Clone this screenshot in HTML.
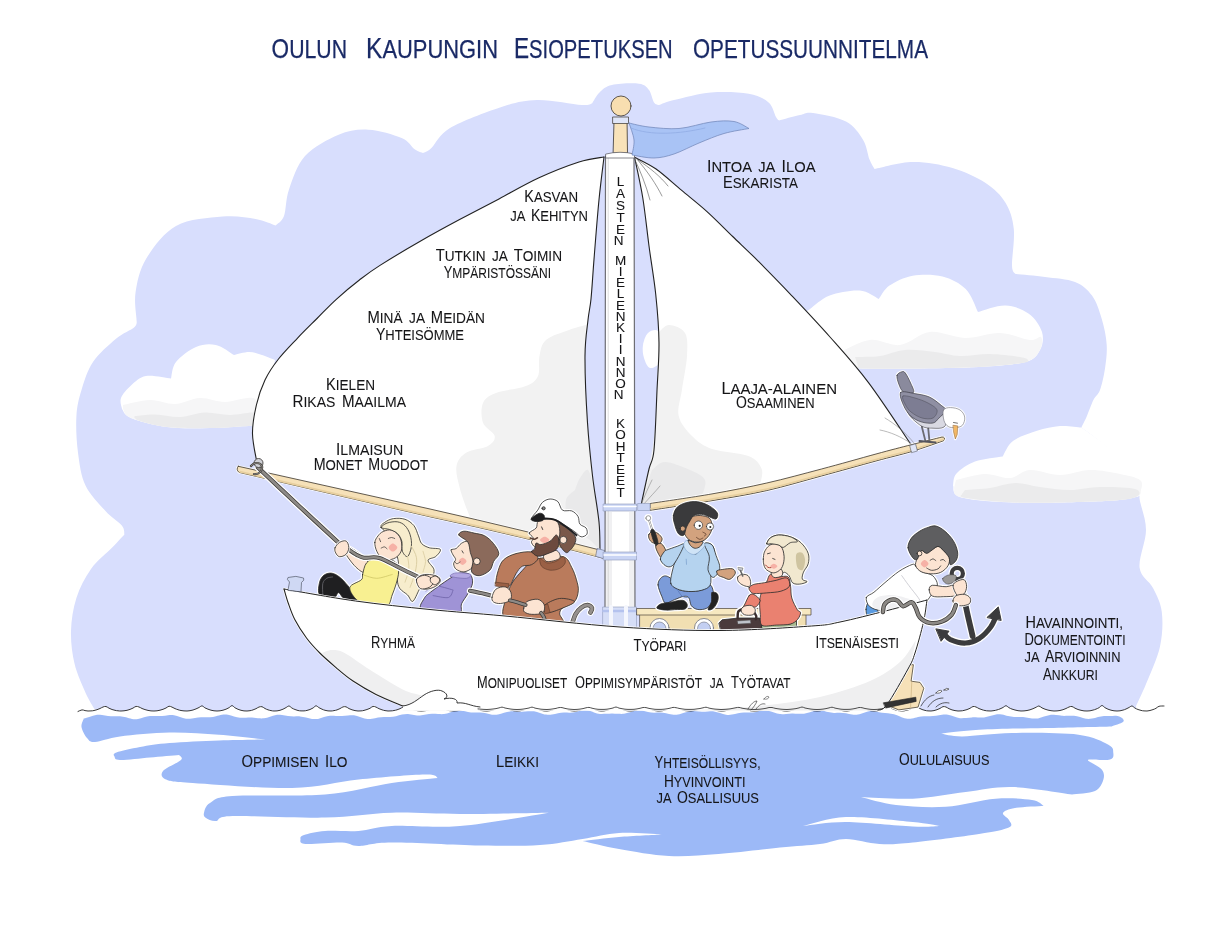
<!DOCTYPE html>
<html lang="fi"><head><meta charset="utf-8"><title>Oulun kaupungin esiopetuksen opetussuunnitelma</title>
<style>
html,body{margin:0;padding:0;background:#fff;}
body{width:1206px;height:935px;overflow:hidden;font-family:"Liberation Sans",sans-serif;}
svg{display:block;will-change:transform;}
svg text{font-family:"Liberation Sans",sans-serif;}
</style></head><body>
<svg width="1206" height="935" viewBox="0 0 1206 935" stroke-linejoin="round" stroke-linecap="round">
<path d="M94.5 709C93 706.3 88.8 700.3 85.5 692.7C82.2 685.1 76.9 673.9 74.5 663.6C72.1 653.3 70.7 641.9 71 631C71.3 620.1 73.1 608.3 76.4 598C79.7 587.7 85 577.5 91 569C97 560.5 107.1 552.8 112.7 547C118.3 541.2 122.5 536.6 124.4 534.5C124 533 125 529.4 121.8 525.5C118.6 521.6 111.5 517.7 105.5 511C99.5 504.3 90.1 495.2 85.5 485.5C80.9 475.8 79.5 464.2 78 452.7C76.5 441.2 75.8 426.8 76.4 416.4C77 405.9 78.7 399.1 81.5 390C84.3 380.9 87.2 370.6 93 362C98.8 353.4 109.1 344.5 116 338.7C122.9 332.9 131.2 330.3 134.6 327C138 323.7 136.2 320.3 136.5 319C136.3 314.5 134 302 135.6 292C137.2 282 139.3 270 146 259C152.7 248 163.2 233.1 176 226C188.8 218.9 209.2 217.8 222.5 216.6C235.8 215.4 246.8 217.5 255.6 219C264.4 220.5 272.2 224.4 275.5 225.5C276.9 223.9 281.8 222 284 216C286.2 210 285.5 199.5 289 189.5C292.5 179.5 296.7 165.1 305 156C313.3 146.9 328 139.1 338.6 134.7C349.2 130.3 357.9 129.1 368.4 129.7C378.9 130.2 393.8 134.7 401.6 138C409.4 141.3 411.4 147.1 415 149.6C418.6 152.1 421.7 152.4 423 153C424.4 152.2 426.9 152.2 431.4 148C435.9 143.8 438.6 134.8 450 128C461.4 121.2 485.5 112.1 500 107.4C514.5 102.7 523.3 100.4 537 100C550.7 99.6 572.8 104.4 582 105C591.2 105.6 590.3 103.8 592 103.6C593.2 101.7 596.2 95.5 599.5 92.4C602.8 89.3 605.4 86.5 612 85C618.6 83.5 632.8 82.9 639 83.7C645.2 84.5 646.5 86.9 649 90C651.5 93.1 652.3 99.9 654 102.4C655.7 104.9 658.2 104.6 659 105C661.5 104.2 665.3 102.1 674 100C682.7 97.9 698.5 93.5 711 92.4C723.5 91.4 739.1 92 748.7 93.7C758.3 95.4 764.1 98.5 768.6 102.4C773.1 106.3 774.3 114 776 117C777.7 120 778.5 119.9 779 120.5C782.5 119.6 794.3 116.2 800 115C805.7 113.8 805.3 111.9 813 113C820.7 114.1 837.7 117 846 121.5C854.3 126 859.1 133.3 863 139.7C866.9 146 867.6 154.7 869.5 159.6C871.4 164.5 873.7 167.4 874.5 169C880.9 167.8 899.7 162.2 912.7 162C925.7 161.8 940.4 164.5 952.5 168C964.6 171.5 976.8 177.2 985.6 183C994.4 188.8 1000.8 195 1005.5 202.7C1010.2 210.4 1012.7 218.5 1013.8 229C1014.9 239.5 1011.7 258.2 1012 265.7C1012.3 273.2 1014.9 272.6 1015.5 274C1020.4 274.5 1035.1 275.7 1045 277C1054.9 278.3 1067.2 278.9 1075 282C1082.8 285.1 1087.5 289.5 1092 295.6C1096.5 301.7 1099.2 310.6 1101.7 318.8C1104.2 327 1106.2 336.7 1106.7 345C1107.2 353.3 1106.1 361 1105 368.5C1103.9 376 1101.9 384.8 1100 390C1098.1 395.2 1095.7 395.5 1093.4 400C1091.2 404.5 1088.5 412.4 1086.5 417C1084.5 421.6 1082.2 425.7 1081.4 427.4C1086.2 431.2 1100.3 440.6 1110 450C1119.7 459.4 1134.7 475.8 1139.6 484C1144.5 492.2 1138.5 491.3 1139.6 499C1140.7 506.7 1146 518.5 1146 530C1146 541.5 1138.4 558 1139.6 567.7C1140.8 577.4 1149.3 580.6 1153 588C1156.7 595.4 1160.6 602.3 1161.8 612C1163 621.7 1162.6 634.4 1160 646.4C1157.4 658.4 1150 674.1 1146 684C1142 693.9 1137.7 702.3 1136 706C1136 706.4 1136.5 708.5 1136 708.6C1135.5 708.7 1134 707.1 1133 706.8C1132 706.6 1131 706.5 1130 706.8C1129 707.1 1128 708.1 1127 708.6C1126 709.1 1125 709.5 1124 709.8C1123 710.1 1122 710.4 1121 710.6C1120 710.8 1119 710.9 1118 711C1117 711 1116 711 1115 710.9C1114 710.8 1113 710.7 1112 710.4C1111 710.2 1110 709.9 1109 709.5C1108 709.2 1107 708.8 1106 708.3C1105 707.7 1104 706.6 1103 706.4C1102 706.2 1101 706.7 1100 707.1C1099 707.5 1098 708.2 1097 708.7C1096 709.1 1095 709.5 1094 709.8C1093 710.1 1092 710.4 1091 710.6C1090 710.8 1089 710.9 1088 711C1087 711 1086 711 1085 710.9C1084 710.9 1083 710.7 1082 710.6C1081 710.4 1080 710.1 1079 709.8C1078 709.5 1077 709.1 1076 708.7C1075 708.2 1074 707.5 1073 707.1C1072 706.7 1071 706.1 1070 706.3C1069 706.4 1068 707.5 1067 708.1C1066 708.6 1065 709 1064 709.3C1063 709.7 1062 710 1061 710.2C1060 710.5 1059 710.7 1058 710.8C1057 710.9 1056 711 1055 711C1054 711 1053 711 1052 710.9C1051 710.7 1050 710.6 1049 710.4C1048 710.1 1047 709.9 1046 709.5C1045 709.2 1044 708.8 1043 708.4C1042 707.9 1041 707 1040 706.8C1039 706.5 1038 706.4 1037 706.6C1036 706.9 1035 707.8 1034 708.3C1033 708.7 1032 709.1 1031 709.5C1030 709.8 1029 710.1 1028 710.3C1027 710.5 1026 710.7 1025 710.8C1024 710.9 1023 711 1022 711C1021 711 1020 710.9 1019 710.8C1018 710.7 1017 710.5 1016 710.3C1015 710.1 1014 709.8 1013 709.4C1012 709.1 1011 708.7 1010 708.2C1009 707.7 1008 706.8 1007 706.5C1006 706.3 1005 706.6 1004 706.9C1003 707.2 1002 708 1001 708.5C1000 708.9 999 709.3 998 709.6C997 710 996 710.2 995 710.4C994 710.7 993 710.8 992 710.9C991 711 990 711 989 711C988 711 987 710.9 986 710.7C985 710.5 984 710.3 983 710C982 709.8 981 709.4 980 709C979 708.6 978 708.1 977 707.6C976 707 975 705.7 974 705.7C973 705.7 972 707.2 971 707.8C970 708.4 969 708.8 968 709.2C967 709.6 966 709.9 965 710.2C964 710.5 963 710.7 962 710.8C961 710.9 960 711 959 711C958 711 957 710.9 956 710.8C955 710.7 954 710.4 953 710.2C952 709.9 951 709.5 950 709.1C949 708.7 948 708.2 947 707.6C946 707.1 945 705.7 944 705.7C943 705.8 942 707.3 941 707.9C940 708.5 939 708.9 938 709.3C937 709.7 936 710.1 935 710.3C934 710.6 933 710.8 932 710.9C931 711 930 711 929 711C928 710.9 927 710.8 926 710.6C925 710.4 924 710.2 923 709.8C922 709.5 921 709.1 920 708.6C919 708.1 918 707 917 706.8C916 706.5 915 706.6 914 707C913 707.3 912 708.2 911 708.7C910 709.2 909 709.6 908 709.9C907 710.3 906 710.5 905 710.7C904 710.9 903 711 902 711C901 711 900 711 899 710.8C898 710.7 897 710.4 896 710.1C895 709.8 894 709.5 893 709C892 708.5 891 707.8 890 707.3C889 706.9 888 706.2 887 706.4C886 706.5 885 707.8 884 708.3C883 708.9 882 709.3 881 709.7C880 710.1 879 710.4 878 710.6C877 710.8 876 710.9 875 711C874 711 873 711 872 710.9C871 710.8 870 710.6 869 710.3C868 710.1 867 709.7 866 709.3C865 708.9 864 708.4 863 707.8C862 707.2 861 705.6 860 705.6C859 705.6 858 707.3 857 707.9C856 708.5 855 709 854 709.4C853 709.8 852 710.1 851 710.4C850 710.6 849 710.8 848 710.9C847 711 846 711 845 711C844 710.9 843 710.8 842 710.6C841 710.4 840 710.1 839 709.8C838 709.4 837 709 836 708.5C835 708 834 707 833 706.7C832 706.5 831 706.6 830 706.9C829 707.3 828 708.2 827 708.6C826 709.1 825 709.5 824 709.8C823 710.2 822 710.4 821 710.6C820 710.8 819 710.9 818 711C817 711 816 711 815 710.9C814 710.8 813 710.7 812 710.4C811 710.2 810 709.9 809 709.5C808 709.2 807 708.8 806 708.3C805 707.8 804 706.7 803 706.5C802 706.3 801 706.7 800 707C799 707.4 798 708.2 797 708.6C796 709.1 795 709.5 794 709.8C793 710.1 792 710.4 791 710.6C790 710.8 789 710.9 788 710.9C787 711 786 711 785 711C784 710.9 783 710.8 782 710.6C781 710.4 780 710.2 779 709.9C778 709.6 777 709.2 776 708.8C775 708.4 774 707.8 773 707.3C772 706.9 771 705.9 770 706C769 706.1 768 707.4 767 707.9C766 708.4 765 708.8 764 709.2C763 709.6 762 709.9 761 710.1C760 710.4 759 710.6 758 710.7C757 710.9 756 711 755 711C754 711 753 711 752 710.9C751 710.8 750 710.7 749 710.4C748 710.2 747 710 746 709.7C745 709.3 744 709 743 708.5C742 708.1 741 707.4 740 707C739 706.7 738 706.2 737 706.3C736 706.5 735 707.6 734 708.1C733 708.6 732 709 731 709.3C730 709.7 729 710 728 710.2C727 710.5 726 710.6 725 710.8C724 710.9 723 711 722 711C721 711 720 711 719 710.9C718 710.8 717 710.6 716 710.4C715 710.2 714 709.9 713 709.6C712 709.2 711 708.8 710 708.4C709 707.9 708 707.1 707 706.8C706 706.5 705 706.4 704 706.7C703 706.9 702 707.9 701 708.3C700 708.8 699 709.2 698 709.5C697 709.9 696 710.2 695 710.4C694 710.6 693 710.8 692 710.9C691 711 690 711 689 711C688 711 687 710.9 686 710.7C685 710.6 684 710.4 683 710.1C682 709.8 681 709.5 680 709.1C679 708.7 678 708.2 677 707.6C676 707.1 675 705.5 674 705.6C673 705.6 672 707.1 671 707.7C670 708.3 669 708.8 668 709.2C667 709.6 666 709.9 665 710.2C664 710.4 663 710.7 662 710.8C661 710.9 660 711 659 711C658 711 657 710.9 656 710.8C655 710.6 654 710.4 653 710.1C652 709.9 651 709.5 650 709.1C649 708.7 648 708.1 647 707.6C646 707 645 705.8 644 705.9C643 706 642 707.4 641 708C640 708.6 639 709 638 709.4C637 709.8 636 710.1 635 710.4C634 710.6 633 710.8 632 710.9C631 711 630 711 629 711C628 710.9 627 710.8 626 710.6C625 710.4 624 710.1 623 709.7C622 709.4 621 709 620 708.4C619 707.9 618 706.7 617 706.5C616 706.3 615 706.8 614 707.2C613 707.6 612 708.4 611 708.9C610 709.4 609 709.7 608 710.1C607 710.4 606 710.6 605 710.8C604 710.9 603 711 602 711C601 711 600 710.9 599 710.8C598 710.6 597 710.3 596 710C595 709.7 594 709.3 593 708.8C592 708.3 591 707.5 590 707.1C589 706.7 588 706.4 587 706.7C586 706.9 585 708 584 708.5C583 709.1 582 709.5 581 709.8C580 710.2 579 710.4 578 710.6C577 710.8 576 711 575 711C574 711 573 711 572 710.9C571 710.7 570 710.5 569 710.2C568 710 567 709.6 566 709.2C565 708.7 564 708.1 563 707.6C562 707.1 561 705.9 560 705.9C559 706 558 707.5 557 708.1C556 708.6 555 709.1 554 709.5C553 709.9 552 710.2 551 710.4C550 710.7 549 710.8 548 710.9C547 711 546 711 545 711C544 710.9 543 710.8 542 710.5C541 710.3 540 710.1 539 709.7C538 709.3 537 708.9 536 708.4C535 707.9 534 706.8 533 706.6C532 706.4 531 706.7 530 707C529 707.4 528 708.2 527 708.7C526 709.2 525 709.5 524 709.9C523 710.2 522 710.4 521 710.6C520 710.8 519 710.9 518 711C517 711 516 711 515 710.9C514 710.8 513 710.7 512 710.4C511 710.2 510 709.9 509 709.6C508 709.2 507 708.8 506 708.3C505 707.8 504 706.8 503 706.6C502 706.3 501 706.6 500 707C499 707.3 498 708.1 497 708.6C496 709 495 709.4 494 709.7C493 710.1 492 710.3 491 710.5C490 710.7 489 710.9 488 710.9C487 711 486 711 485 711C484 710.9 483 710.8 482 710.6C481 710.5 480 710.2 479 710C478 709.7 477 709.3 476 708.9C475 708.5 474 708 473 707.5C472 707 471 705.6 470 705.7C469 705.7 468 707.1 467 707.7C466 708.3 465 708.7 464 709C463 709.4 462 709.8 461 710C460 710.3 459 710.5 458 710.7C457 710.8 456 710.9 455 711C454 711 453 711 452 710.9C451 710.9 450 710.7 449 710.5C448 710.3 447 710.1 446 709.8C445 709.5 444 709.1 443 708.7C442 708.3 441 707.7 440 707.3C439 706.8 438 705.9 437 706C436 706.1 435 707.3 434 707.9C433 708.4 432 708.8 431 709.2C430 709.5 429 709.8 428 710.1C427 710.4 426 710.6 425 710.7C424 710.9 423 711 422 711C421 711 420 711 419 710.9C418 710.8 417 710.7 416 710.5C415 710.3 414 710 413 709.7C412 709.4 411 709 410 708.5C409 708.1 408 707.3 407 707C406 706.6 405 706.3 404 706.5C403 706.7 402 707.7 401 708.2C400 708.7 399 709.1 398 709.4C397 709.8 396 710.1 395 710.3C394 710.6 393 710.7 392 710.9C391 711 390 711 389 711C388 711 387 710.9 386 710.8C385 710.6 384 710.4 383 710.1C382 709.9 381 709.5 380 709.1C379 708.7 378 708.3 377 707.7C376 707.1 375 705.5 374 705.5C373 705.5 372 707.1 371 707.7C370 708.3 369 708.7 368 709.2C367 709.6 366 709.9 365 710.2C364 710.5 363 710.7 362 710.8C361 710.9 360 711 359 711C358 711 357 710.9 356 710.8C355 710.6 354 710.4 353 710.1C352 709.8 351 709.5 350 709C349 708.6 348 708 347 707.5C346 707 345 706 344 706.1C343 706.2 342 707.5 341 708.1C340 708.7 339 709.1 338 709.5C337 709.9 336 710.2 335 710.4C334 710.7 333 710.8 332 710.9C331 711 330 711 329 711C328 710.9 327 710.7 326 710.5C325 710.3 324 710 323 709.6C322 709.2 321 708.8 320 708.3C319 707.7 318 706.4 317 706.3C316 706.1 315 706.9 314 707.4C313 707.9 312 708.6 311 709C310 709.5 309 709.9 308 710.2C307 710.5 306 710.7 305 710.8C304 711 303 711 302 711C301 711 300 710.9 299 710.7C298 710.5 297 710.2 296 709.9C295 709.6 294 709.2 293 708.6C292 708.1 291 707.1 290 706.8C289 706.5 288 706.6 287 706.9C286 707.2 285 708.2 284 708.7C283 709.2 282 709.6 281 709.9C280 710.3 279 710.5 278 710.7C277 710.9 276 711 275 711C274 711 273 710.9 272 710.8C271 710.7 270 710.4 269 710.1C268 709.8 267 709.5 266 709C265 708.6 264 707.9 263 707.4C262 706.9 261 706.1 260 706.2C259 706.3 258 707.6 257 708.2C256 708.8 255 709.2 254 709.6C253 710 252 710.3 251 710.5C250 710.7 249 710.9 248 710.9C247 711 246 711 245 710.9C244 710.9 243 710.7 242 710.5C241 710.3 240 710 239 709.6C238 709.3 237 708.9 236 708.3C235 707.8 234 706.7 233 706.5C232 706.3 231 706.7 230 707.1C229 707.4 228 708.3 227 708.7C226 709.2 225 709.6 224 709.9C223 710.2 222 710.5 221 710.6C220 710.8 219 710.9 218 711C217 711 216 711 215 710.9C214 710.8 213 710.7 212 710.4C211 710.2 210 709.9 209 709.6C208 709.2 207 708.8 206 708.4C205 707.9 204 706.9 203 706.7C202 706.4 201 706.5 200 706.9C199 707.2 198 708 197 708.5C196 709 195 709.3 194 709.7C193 710 192 710.3 191 710.5C190 710.7 189 710.8 188 710.9C187 711 186 711 185 711C184 710.9 183 710.8 182 710.7C181 710.5 180 710.3 179 710C178 709.8 177 709.4 176 709C175 708.7 174 708.3 173 707.7C172 707.1 171 705.7 170 705.7C169 705.6 168 707 167 707.5C166 708 165 708.5 164 708.9C163 709.3 162 709.6 161 709.9C160 710.2 159 710.4 158 710.6C157 710.8 156 710.9 155 711C154 711 153 711 152 711C151 710.9 150 710.8 149 710.6C148 710.4 147 710.2 146 709.9C145 709.6 144 709.3 143 708.9C142 708.5 141 708.1 140 707.5C139 707 138 705.6 137 705.6C136 705.6 135 707.1 134 707.6C133 708.2 132 708.6 131 709C130 709.4 129 709.7 128 710C127 710.3 126 710.5 125 710.7C124 710.8 123 710.9 122 711C121 711 120 711 119 710.9C118 710.9 117 710.7 116 710.5C115 710.3 114 710.1 113 709.8C112 709.5 111 709.1 110 708.7C109 708.2 108 707.6 107 707.2C106 706.8 105 706.1 104 706.3C103 706.4 102 707.6 101 708.1C100 708.6 98.5 709.1 98 709.4Z" fill="#d8defd"/>
<path d="M806 312C806.7 311.5 806 311.7 810 309C814 306.3 821.4 298.7 829.7 295.6C838 292.5 851.4 290 859.6 290.6C867.8 291.2 875.6 297.6 878.8 299C880.6 296.8 883.9 289.5 889.5 285.6C895.1 281.7 903.9 277.2 912.7 275.7C921.5 274.2 933.7 274.2 942.5 276.4C951.3 278.6 959.8 283.1 965.7 289C971.6 294.9 976 308.2 978 312C982.6 310.9 997 305.2 1005.5 305.5C1014 305.8 1022.7 309.4 1028.8 313.8C1034.9 318.2 1040.1 326 1042 332C1043.9 338 1042.8 345 1040 350C1037.2 355 1035.6 359.2 1025.4 362C1015.2 364.8 997.8 365.9 979 367C960.2 368.1 932 368.2 912.7 368.5C893.4 368.8 875.1 368.9 863 368.5C850.9 368.1 843.8 366.4 840 366L806 312Z" fill="#fff"/>
<path d="M840 352C845 350 860 341.2 870 340C880 338.8 890 346.3 900 345C910 343.7 919.2 333.2 930 332C940.8 330.8 953.3 337.8 965 338C976.7 338.2 989.2 332.7 1000 333C1010.8 333.3 1023.2 339.3 1030 340C1036.8 340.7 1039.3 335.3 1041 337C1042.7 338.7 1042.6 345.8 1040 350C1037.4 354.2 1035.6 359.2 1025.4 362C1015.2 364.8 997.8 365.9 979 367C960.2 368.1 932 368.2 912.7 368.5C893.4 368.8 874.3 368.9 863 368.5C851.7 368.1 848 366.4 845 366Z" fill="#f6f6f7"/>
<path d="M855 357C859.2 356.8 871.7 357.2 880 356C888.3 354.8 895.8 350.7 905 350C914.2 349.3 925.8 351 935 352C944.2 353 950.8 355.7 960 356C969.2 356.3 980 353.8 990 354C1000 354.2 1013.7 356 1020 357C1026.3 358 1027.7 359 1028 360C1028.3 361 1030.2 361.8 1022 363C1013.8 364.2 997.2 366.1 979 367C960.8 367.9 932 368.2 912.7 368.5C893.4 368.8 872.1 368.9 863 368.5C853.9 368.1 858.8 366.4 858 366Z" fill="#ebebec"/>
<path d="M953 485.6C953.6 483.6 952.8 477.6 956.5 473.6C960.2 469.6 967.3 464.5 975 461.6C982.7 458.8 998.1 457.4 1002.7 456.5C1004.4 453.9 1007.3 445.3 1013 441C1018.7 436.7 1029.2 433.3 1037 430.8C1044.8 428.3 1052.6 426.6 1060 426C1067.4 425.4 1077.8 427.2 1081.4 427.4C1086.2 431 1100.1 439.7 1110 449C1119.9 458.3 1135.7 475.8 1141 483C1146.3 490.2 1142.8 489.7 1142 492C1141.2 494.3 1142.2 495.5 1136 497C1129.8 498.5 1124.4 500.1 1105 501C1085.6 501.9 1043.7 503.3 1019.8 502.7C995.9 502.1 972.7 500.4 961.6 497.5C950.5 494.6 954.4 487.6 953 485.6Z" fill="#fff"/>
<path d="M956 480C960.8 479 976 474.3 985 474C994 473.7 1002.5 478.7 1010 478C1017.5 477.3 1021.7 470.5 1030 470C1038.3 469.5 1050 475 1060 475C1070 475 1080 470.2 1090 470C1100 469.8 1111.7 472.3 1120 474C1128.3 475.7 1136.5 477.3 1140 480C1143.5 482.7 1141.7 487.2 1141 490C1140.3 492.8 1142 495.2 1136 497C1130 498.8 1124.4 500.1 1105 501C1085.6 501.9 1043.7 503.3 1019.8 502.7C995.9 502.1 972.6 499.9 961.6 497.5C950.6 495.1 955.3 489.6 954 488Z" fill="#f6f6f7"/>
<path d="M965 490C969.2 489.7 981.7 489.2 990 488C998.3 486.8 1006.7 483.2 1015 483C1023.3 482.8 1030.8 485.8 1040 487C1049.2 488.2 1060 490 1070 490C1080 490 1089.2 487.2 1100 487C1110.8 486.8 1129 487.3 1135 489C1141 490.7 1141 495 1136 497C1131 499 1124.4 500.1 1105 501C1085.6 501.9 1043 503.2 1019.8 502.7C996.6 502.2 975.6 499.4 966 498C956.4 496.6 962.7 494.7 962 494Z" fill="#ebebec"/>
<path d="M122 409C121.8 407.2 119.5 401.9 121 398C122.5 394.1 126.8 389.2 131 385.5C135.2 381.8 139.3 377.2 146 376C152.7 374.8 166.8 378.1 171 378.5C171.8 375.8 171.8 367.2 176 362C180.2 356.8 189.4 349.8 196 347C202.6 344.2 209.5 343.7 215.8 345C222.1 346.3 231 353.3 234 355C236.5 354.5 244.3 352 249 352C253.7 352 257.7 353.7 262 355C266.3 356.3 272.8 359.2 275 360C272.8 370.8 266 414.1 262 425C258 435.9 259.7 425 251 425.5C242.3 426 224 427.8 210 428C196 428.2 180.2 428.7 167 427C153.8 425.3 138.5 421 131 418C123.5 415 123.5 410.5 122 409Z" fill="#fff"/>
<path d="M123 405C127.5 404.2 141.3 400.2 150 400C158.7 399.8 166.7 404.3 175 404C183.3 403.7 191.7 398.3 200 398C208.3 397.7 215.8 401.8 225 402C234.2 402.2 248.8 395.2 255 399C261.2 402.8 260.8 420.7 262 425C253.3 425.5 225.8 427.7 210 428C194.2 428.3 180.2 428.7 167 427C153.8 425.3 138.3 421 131 418C123.7 415 124.3 410.5 123 409Z" fill="#f6f6f7"/>
<path d="M135 416C138.3 415.8 147.5 414.3 155 414.5C162.5 414.7 171.7 417.3 180 417C188.3 416.7 196.7 412.8 205 412.5C213.3 412.2 221.5 414.9 230 415C238.5 415.1 250.7 411.3 256 413C261.3 414.7 261 423 262 425C253.3 425.5 225.8 427.7 210 428C194.2 428.3 178.7 428.2 167 427C155.3 425.8 145.5 422.7 140 421C134.5 419.3 135 417.7 134 417Z" fill="#ebebec"/>
<path d="M84 718.5C85 718.2 88 717.3 90 716.8C92 716.2 94 715.3 96 715C98 714.7 100 714.9 102 715.1C104 715.2 106 715.8 108 716.1C110 716.3 112 716.3 114 716.3C116 716.3 118 716.1 120 716.2C122 716.4 124 716.9 126 717.3C128 717.8 130 718.7 132 718.9C134 719.2 136 719.2 138 718.9C140 718.6 142 717.7 144 717.2C146 716.7 148 716.1 150 716C152 715.8 154 716 156 716C158 716 160 716.2 162 716C164 715.9 166 715.4 168 715.2C170 715.1 172 714.9 174 715.2C176 715.5 178 716.3 180 716.9C182 717.5 184 718.4 186 718.7C188 718.9 190 718.8 192 718.6C194 718.4 196 717.8 198 717.5C200 717.3 202 717.2 204 717.2C206 717.2 208 717.4 210 717.3C212 717.1 214 716.7 216 716.2C218 715.8 220 714.9 222 714.7C224 714.4 226 714.4 228 714.7C230 715 232 715.9 234 716.4C236 716.9 238 717.5 240 717.7C242 717.9 244 717.7 246 717.7C248 717.6 250 717.5 252 717.6C254 717.7 256 718.2 258 718.3C260 718.4 262 718.6 264 718.3C266 718.1 268 717.2 270 716.7C272 716.1 274 715.2 276 714.9C278 714.6 280 714.8 282 715C284 715.2 286 715.8 288 716.1C290 716.4 292 716.4 294 716.5C296 716.5 298 716.3 300 716.4C302 716.6 304 717 306 717.4C308 717.8 310 718.6 312 718.9C314 719.1 316 719.2 318 718.9C320 718.6 322 717.6 324 717.1C326 716.6 328 716 330 715.8C332 715.6 334 715.8 336 715.9C338 715.9 340 716.1 342 716C344 715.9 346 715.5 348 715.4C350 715.2 352 715.1 354 715.3C356 715.6 358 716.4 360 717C362 717.6 364 718.5 366 718.7C368 719 370 718.9 372 718.7C374 718.5 376 717.8 378 717.5C380 717.2 382 717.1 384 717C386 716.9 388 717.2 390 717.1C392 716.9 394 716.6 396 716.2C398 715.7 400 714.8 402 714.4C404 714.1 406 713.8 408 713.9C410 714 412 714.6 414 714.9C416 715.2 418 715.5 420 715.5C422 715.4 424 714.9 426 714.6C428 714.3 430 713.9 432 713.8C434 713.7 436 714 438 714C440 714 442 714.3 444 714C446 713.7 448 712.9 450 712.4C452 711.8 454 710.9 456 710.6C458 710.3 460 710.5 462 710.7C464 710.9 466 711.6 468 711.9C470 712.2 472 712.4 474 712.5C476 712.6 478 712.3 480 712.4C482 712.5 484 712.9 486 713.2C488 713.6 490 714.4 492 714.7C494 714.9 496 714.9 498 714.6C500 714.3 502 713.4 504 712.8C506 712.3 508 711.6 510 711.4C512 711.2 514 711.4 516 711.5C518 711.6 520 711.8 522 711.8C524 711.8 526 711.4 528 711.3C530 711.2 532 711 534 711.3C536 711.5 538 712.3 540 712.9C542 713.4 544 714.4 546 714.6C548 714.9 550 714.8 552 714.6C554 714.3 556 713.6 558 713.2C560 712.9 562 712.7 564 712.6C566 712.5 568 712.8 570 712.7C572 712.6 574 712.3 576 711.9C578 711.6 580 710.8 582 710.6C584 710.3 586 710.3 588 710.6C590 710.9 592 711.9 594 712.4C596 713 598 713.7 600 713.9C602 714.1 604 713.9 606 713.8C608 713.7 610 713.4 612 713.4C614 713.4 616 713.7 618 713.8C620 713.9 622 714.1 624 713.8C626 713.6 628 712.8 630 712.3C632 711.7 634 710.8 636 710.5C638 710.3 640 710.4 642 710.6C644 710.9 646 711.7 648 712C650 712.3 652 712.6 654 712.7C656 712.8 658 712.5 660 712.6C662 712.7 664 713 666 713.3C668 713.6 670 714.4 672 714.6C674 714.8 676 714.9 678 714.6C680 714.3 682 713.3 684 712.8C686 712.2 688 711.5 690 711.2C692 711 694 711.2 696 711.3C698 711.4 700 711.8 702 711.8C704 711.8 706 711.5 708 711.5C710 711.4 712 711.2 714 711.4C716 711.7 718 712.4 720 713C722 713.5 724 714.4 726 714.7C728 715 730 714.9 732 714.6C734 714.3 736 713.5 738 713.2C740 712.8 742 712.5 744 712.4C746 712.3 748 712.6 750 712.5C752 712.4 754 712.2 756 711.9C758 711.6 760 710.8 762 710.6C764 710.4 766 710.4 768 710.7C770 711 772 711.9 774 712.5C776 713.1 778 713.8 780 714C782 714.3 784 714 786 713.9C788 713.8 790 713.4 792 713.4C794 713.3 796 713.6 798 713.7C800 713.7 802 713.9 804 713.7C806 713.4 808 712.7 810 712.2C812 711.7 814 710.8 816 710.5C818 710.2 820 710.3 822 710.6C824 710.8 826 711.7 828 712.1C830 712.5 832 712.8 834 712.9C836 713 838 712.7 840 712.8C842 712.9 844 713.1 846 713.3C848 713.6 850 714.3 852 714.5C854 714.7 856 714.8 858 714.5C860 714.2 862 713.2 864 712.7C866 712.1 868 711.3 870 711.1C872 710.9 874 711.2 876 711.4C878 711.7 880 712.4 882 712.7C884 713 886 713.1 888 713.3C890 713.6 892 713.7 894 714.2C896 714.7 898 715.7 900 716.4C902 717.2 904 718.3 906 718.6C908 719 910 718.9 912 718.6C914 718.4 916 717.5 918 717.1C920 716.7 922 716.3 924 716.2C926 716.1 928 716.4 930 716.3C932 716.2 934 716.1 936 715.8C938 715.6 940 714.9 942 714.7C944 714.5 946 714.4 948 714.8C950 715.1 952 716 954 716.6C956 717.2 958 717.9 960 718.2C962 718.4 964 718.2 966 718.1C968 717.9 970 717.5 972 717.4C974 717.3 976 717.5 978 717.5C980 717.5 982 717.7 984 717.5C986 717.3 988 716.6 990 716.1C992 715.6 994 714.7 996 714.4C998 714.2 1000 714.3 1002 714.6C1004 714.8 1006 715.7 1008 716.1C1010 716.6 1012 716.9 1014 717.1C1016 717.2 1018 716.9 1020 717C1022 717 1024 717.1 1026 717.4C1028 717.6 1030 718.3 1032 718.4C1034 718.6 1036 718.7 1038 718.4C1040 718.1 1042 717.1 1044 716.6C1046 716 1048 715.2 1050 714.9C1052 714.7 1054 714.9 1056 715.1C1058 715.2 1060 715.7 1062 715.8C1064 716 1066 715.8 1068 715.8C1070 715.8 1072 715.6 1074 715.8C1076 716 1078 716.6 1080 717.1C1082 717.6 1084 718.5 1086 718.8C1088 719 1090 718.9 1092 718.6C1094 718.4 1096 717.5 1098 717C1100 716.6 1102 716.2 1104 716C1106 715.9 1108 716.1 1110 716.1C1112 716.1 1114 715.5 1116 715.8C1118 716.1 1120.8 717 1122 718C1123.2 719 1124.7 720.6 1123 722C1121.3 723.4 1113.6 725.7 1111.7 726.4C1100.6 726.7 1067.1 727.5 1045 728C1022.9 728.5 996.3 728.8 979 729.7C961.7 730.6 947.3 732.9 941 733.5C944.6 734 950.6 736.5 962.4 736.4C974.2 736.3 992.6 733.3 1012 733C1031.3 732.7 1062.4 732.8 1078.5 734.7C1094.6 736.7 1102.6 741.7 1108.4 744.7C1114.2 747.8 1113 750.5 1113.3 753C1113.6 755.5 1113.9 758.5 1110 759.6C1106.1 760.7 1093.3 759.6 1090 759.6C1089.8 759.8 1086.5 759.4 1088.5 761C1090.5 762.6 1099.2 766.4 1101.7 769.5C1104.2 772.6 1104.5 775.9 1103.4 779.5C1102.3 783.1 1100.2 788.5 1095 791C1089.8 793.5 1075.8 793.8 1072 794.4C1062 793.2 1029.7 787.4 1012 787C994.3 786.6 982.2 790 965.7 792C949.2 794 930.2 797.9 912.7 798.7C895.2 799.5 869.6 797.3 861 797C866.8 798.3 881.9 803.4 896 805C910.1 806.6 929.2 807.8 945.8 806.7C962.4 805.7 981.2 799.8 995.6 798.7C1010 797.6 1024 798.8 1032 800C1040 801.2 1041.8 805 1043.7 806C1038.9 806.3 1021.8 806.8 1015 808C1008.2 809.2 1004 811 1003 813C1002 815 1008 817.6 1009 820C1010 822.4 1013.9 825.3 1008.9 827.6C1003.9 829.9 995 831.5 979 834C963 836.5 929.3 840.8 912.7 842.5C896.1 844.2 890.6 844.6 879.5 844C868.4 843.4 855.9 839 846 839C836.1 839 831 842.6 820 844C809 845.4 796.9 845.8 780 847.5C763.1 849.2 737 852.6 718.5 854C700 855.4 685.6 856.8 669 856C652.4 855.2 633.4 851.5 619 849C604.6 846.5 588.6 842.3 582.5 841C588.6 840.3 605.8 838.1 619 837C632.2 835.9 654.8 834.9 662 834.5C654.8 834.2 632.2 832.2 619 833C605.8 833.8 595.7 837 582.5 839C569.3 841 557.1 843.9 540 845C522.9 846.1 504.7 845.9 480 845.5C455.3 845.1 411.9 842.4 391.7 842.5C371.4 842.6 366.8 846 358.5 846C350.2 846 350.9 842.8 342 842.5C333.1 842.2 312.3 844.6 305.4 844C298.5 843.4 300.7 840.5 300.5 839C300.3 837.5 299.9 836.3 304 835C308.1 833.7 315.9 831.7 325 831C334.1 830.3 347.4 831.8 358.5 831C369.6 830.2 374.8 826.8 391.7 826C408.6 825.2 433.8 828.2 460 826C486.2 823.8 534.2 814.9 549 812.7C534.2 812.9 486.2 814 460 814C433.8 814 414.2 812.1 391.7 812.7C369.2 813.3 351.5 817.1 325 817.6C298.5 818.1 250.7 815.4 232.5 816C214.3 816.6 220.4 820.7 216 821C211.6 821.3 208 819.4 206 818C204 816.6 203.3 815.2 204 812.7C204.7 810.2 205.2 805.8 210 803C214.8 800.2 213.3 797.4 232.5 796C251.7 794.6 298.5 796.7 325 794.5C351.5 792.3 372.9 785.8 391.7 783C410.5 780.2 430.3 778.8 438 778C435.8 777.4 438.2 774.2 425 774.5C411.8 774.8 380.7 777.2 358.5 779.5C336.3 781.8 319.6 787.4 292 788C264.4 788.6 213.7 784.4 192.7 783C171.7 781.6 170.9 781.5 166 779.5C161.1 777.5 160.5 774.2 163 771C165.5 767.8 178.3 762.7 181 760C183.7 757.3 179.3 755.8 179 755C174.2 755.4 159.8 756.7 150 757.5C140.2 758.3 125.9 760.2 120 760C114.1 759.8 115.1 757.8 114.5 756.5C113.9 755.2 112.2 754.1 116.4 752.5C120.7 750.9 131.2 748.6 140 747C148.8 745.4 156.3 744.1 169.5 743C182.7 741.9 203 741 219 740.4C235 739.8 257.9 739.7 265.7 739.6C257.9 738.8 235 736 219 734.8C203 733.6 186 732.2 169.5 732.5C153 732.8 132.4 734.8 120 736.4C107.6 738 100.5 741.7 95 742C89.5 742.3 89.2 740.5 87 738C84.8 735.5 82 730.3 81.5 727C81 723.7 83.6 719.5 84 718Z" fill="#9cb9f7"/>
<path d="M803 826C810.2 824.5 827.7 817.7 846 817C864.3 816.3 897 820.5 912.7 822C928.4 823.5 935.5 825.3 940 826C935.5 826.1 928.4 827.2 912.7 826.5C897 825.8 864.3 822.1 846 822C827.7 821.9 810.2 825.3 803 826Z" fill="#fff"/>
<path d="M78 711.5C78.7 711.2 80.8 710 82 709.9C83.2 709.7 84 710.4 85 710.6C86 710.8 87 710.9 88 711C89 711 90 711 91 710.9C92 710.9 93 710.7 94 710.5C95 710.3 96 710 97 709.7C98 709.4 99 709 100 708.5C101 708.1 102 707.3 103 707C104 706.6 105 706.3 106 706.5C107 706.7 108 707.7 109 708.2C110 708.7 111 709.1 112 709.5C113 709.8 114 710.1 115 710.3C116 710.6 117 710.7 118 710.8C119 711 120 711 121 711C122 711 123 710.9 124 710.8C125 710.7 126 710.5 127 710.3C128 710 129 709.7 130 709.4C131 709 132 708.6 133 708.1C134 707.6 135 706.6 136 706.4C137 706.2 138 706.6 139 707C140 707.3 141 708 142 708.5C143 708.9 144 709.3 145 709.6C146 709.9 147 710.2 148 710.4C149 710.6 150 710.8 151 710.9C152 711 153 711 154 711C155 711 156 710.9 157 710.8C158 710.6 159 710.4 160 710.2C161 709.9 162 709.6 163 709.3C164 708.9 165 708.5 166 708C167 707.5 168 706.4 169 706.2C170 706.1 171 706.7 172 707.1C173 707.5 174 708.2 175 708.6C176 709.1 177 709.4 178 709.7C179 710.1 180 710.3 181 710.5C182 710.7 183 710.8 184 710.9C185 711 186 711 187 711C188 710.9 189 710.8 190 710.7C191 710.5 192 710.3 193 710C194 709.7 195 709.3 196 708.9C197 708.5 198 708 199 707.5C200 707 201 705.8 202 705.9C203 705.9 204 707.3 205 707.9C206 708.4 207 708.8 208 709.2C209 709.6 210 709.9 211 710.2C212 710.5 213 710.7 214 710.8C215 710.9 216 711 217 711C218 711 219 710.9 220 710.8C221 710.7 222 710.4 223 710.2C224 709.9 225 709.6 226 709.2C227 708.7 228 708.3 229 707.7C230 707.1 231 705.6 232 705.6C233 705.6 234 707.2 235 707.8C236 708.4 237 708.8 238 709.3C239 709.7 240 710 241 710.3C242 710.5 243 710.7 244 710.9C245 711 246 711 247 711C248 711 249 710.9 250 710.7C251 710.5 252 710.3 253 709.9C254 709.6 255 709.2 256 708.7C257 708.2 258 707.3 259 707C260 706.7 261 706.5 262 706.7C263 707 264 708 265 708.5C266 709.1 267 709.5 268 709.8C269 710.2 270 710.4 271 710.6C272 710.8 273 711 274 711C275 711 276 711 277 710.9C278 710.7 279 710.5 280 710.3C281 710 282 709.6 283 709.2C284 708.7 285 708.1 286 707.6C287 707.1 288 705.9 289 706C290 706.1 291 707.5 292 708.1C293 708.7 294 709.1 295 709.5C296 709.9 297 710.2 298 710.5C299 710.7 300 710.9 301 710.9C302 711 303 711 304 710.9C305 710.8 306 710.7 307 710.4C308 710.2 309 709.9 310 709.5C311 709.1 312 708.6 313 708C314 707.4 315 705.9 316 705.8C317 705.8 318 707.1 319 707.7C320 708.3 321 708.8 322 709.2C323 709.7 324 710 325 710.3C326 710.5 327 710.7 328 710.9C329 711 330 711 331 711C332 711 333 710.8 334 710.6C335 710.5 336 710.2 337 709.9C338 709.5 339 709.1 340 708.6C341 708.1 342 707.2 343 706.9C344 706.6 345 706.5 346 706.8C347 707.1 348 708.1 349 708.6C350 709.1 351 709.5 352 709.8C353 710.1 354 710.4 355 710.6C356 710.8 357 710.9 358 711C359 711 360 711 361 710.9C362 710.8 363 710.7 364 710.4C365 710.2 366 709.9 367 709.5C368 709.2 369 708.8 370 708.3C371 707.7 372 706.6 373 706.4C374 706.2 375 706.7 376 707.1C377 707.5 378 708.2 379 708.7C380 709.1 381 709.5 382 709.8C383 710.2 384 710.4 385 710.6C386 710.8 387 710.9 388 711C389 711 390 711 391 710.9C392 710.9 393 710.7 394 710.5C395 710.4 396 710.1 397 709.8C398 709.5 399 709.1 400 708.7C401 708.2 402 707.5 403 707.1C404 706.7 405 706.1 406 706.3C407 706.5 408 707.6 409 708.1C410 708.6 411 709 412 709.3C413 709.7 414 710 415 710.2C416 710.5 417 710.7 418 710.8C419 710.9 420 711 421 711C422 711 423 711 424 710.8C425 710.7 426 710.6 427 710.3C428 710.1 429 709.8 430 709.5C431 709.2 432 708.8 433 708.3C434 707.9 435 707 436 706.7C437 706.5 438 706.4 439 706.7C440 706.9 441 707.8 442 708.3C443 708.8 444 709.1 445 709.5C446 709.8 447 710.1 448 710.3C449 710.6 450 710.7 451 710.8C452 710.9 453 711 454 711C455 711 456 710.9 457 710.8C458 710.7 459 710.5 460 710.3C461 710.1 462 709.8 463 709.4C464 709.1 465 708.7 466 708.2C467 707.7 468 706.7 469 706.5C470 706.3 471 706.6 472 706.9C473 707.2 474 708 475 708.5C476 708.9 477 709.3 478 709.6C479 710 480 710.2 481 710.5C482 710.7 483 710.8 484 710.9C485 711 486 711 487 711C488 711 489 710.9 490 710.7C491 710.5 492 710.3 493 710C494 709.8 495 709.4 496 709C497 708.6 498 708.1 499 707.6C500 707 501 705.7 502 705.7C503 705.7 504 707.2 505 707.8C506 708.4 507 708.8 508 709.2C509 709.6 510 709.9 511 710.2C512 710.5 513 710.7 514 710.8C515 710.9 516 711 517 711C518 711 519 710.9 520 710.8C521 710.7 522 710.4 523 710.2C524 709.9 525 709.5 526 709.1C527 708.7 528 708.2 529 707.6C530 707.1 531 705.7 532 705.7C533 705.8 534 707.3 535 707.9C536 708.5 537 708.9 538 709.3C539 709.7 540 710.1 541 710.3C542 710.6 543 710.8 544 710.9C545 711 546 711 547 711C548 710.9 549 710.8 550 710.6C551 710.4 552 710.2 553 709.8C554 709.5 555 709.1 556 708.6C557 708.1 558 707.1 559 706.8C560 706.5 561 706.6 562 706.9C563 707.3 564 708.2 565 708.7C566 709.2 567 709.6 568 709.9C569 710.3 570 710.5 571 710.7C572 710.9 573 711 574 711C575 711 576 711 577 710.8C578 710.7 579 710.4 580 710.1C581 709.8 582 709.5 583 709C584 708.5 585 707.8 586 707.4C587 706.9 588 706.2 589 706.3C590 706.5 591 707.8 592 708.3C593 708.9 594 709.3 595 709.7C596 710 597 710.3 598 710.6C599 710.8 600 710.9 601 711C602 711 603 711 604 710.9C605 710.8 606 710.6 607 710.3C608 710.1 609 709.7 610 709.3C611 708.9 612 708.4 613 707.8C614 707.2 615 705.5 616 705.5C617 705.5 618 707.2 619 707.9C620 708.5 621 708.9 622 709.3C623 709.8 624 710.1 625 710.4C626 710.6 627 710.8 628 710.9C629 711 630 711 631 711C632 710.9 633 710.8 634 710.6C635 710.4 636 710.1 637 709.8C638 709.4 639 709 640 708.5C641 708 642 707 643 706.7C644 706.5 645 706.6 646 706.9C647 707.2 648 708.1 649 708.6C650 709.1 651 709.5 652 709.8C653 710.2 654 710.4 655 710.6C656 710.8 657 710.9 658 711C659 711 660 711 661 710.9C662 710.8 663 710.7 664 710.4C665 710.2 666 709.9 667 709.5C668 709.2 669 708.8 670 708.3C671 707.8 672 706.7 673 706.5C674 706.3 675 706.7 676 707C677 707.4 678 708.2 679 708.6C680 709.1 681 709.5 682 709.8C683 710.1 684 710.4 685 710.6C686 710.8 687 710.9 688 710.9C689 711 690 711 691 711C692 710.9 693 710.8 694 710.6C695 710.4 696 710.2 697 709.9C698 709.6 699 709.2 700 708.8C701 708.3 702 707.7 703 707.3C704 706.8 705 705.9 706 706C707 706.1 708 707.4 709 707.9C710 708.4 711 708.8 712 709.2C713 709.6 714 709.9 715 710.1C716 710.4 717 710.6 718 710.7C719 710.9 720 711 721 711C722 711 723 711 724 710.9C725 710.8 726 710.6 727 710.4C728 710.2 729 710 730 709.6C731 709.3 732 709 733 708.5C734 708.1 735 707.4 736 707C737 706.6 738 706.2 739 706.4C740 706.6 741 707.6 742 708.1C743 708.6 744 709 745 709.3C746 709.7 747 710 748 710.2C749 710.5 750 710.7 751 710.8C752 710.9 753 711 754 711C755 711 756 711 757 710.9C758 710.8 759 710.6 760 710.4C761 710.2 762 709.9 763 709.5C764 709.2 765 708.8 766 708.4C767 707.9 768 707 769 706.7C770 706.5 771 706.4 772 706.7C773 707 774 707.9 775 708.3C776 708.8 777 709.2 778 709.5C779 709.9 780 710.2 781 710.4C782 710.6 783 710.8 784 710.9C785 711 786 711 787 711C788 711 789 710.9 790 710.7C791 710.6 792 710.4 793 710.1C794 709.8 795 709.5 796 709.1C797 708.7 798 708.2 799 707.6C800 707.1 801 705.6 802 705.6C803 705.6 804 707.1 805 707.7C806 708.3 807 708.8 808 709.2C809 709.6 810 709.9 811 710.2C812 710.4 813 710.7 814 710.8C815 710.9 816 711 817 711C818 711 819 710.9 820 710.8C821 710.6 822 710.4 823 710.1C824 709.9 825 709.5 826 709.1C827 708.7 828 708.1 829 707.6C830 707 831 705.8 832 705.9C833 705.9 834 707.4 835 708C836 708.6 837 709 838 709.4C839 709.8 840 710.1 841 710.4C842 710.6 843 710.8 844 710.9C845 711 846 711 847 711C848 710.9 849 710.8 850 710.6C851 710.4 852 710.1 853 709.7C854 709.4 855 709 856 708.4C857 707.9 858 706.8 859 706.6C860 706.3 861 706.8 862 707.2C863 707.5 864 708.4 865 708.9C866 709.3 867 709.7 868 710C869 710.4 870 710.6 871 710.8C872 710.9 873 711 874 711C875 711 876 710.9 877 710.8C878 710.6 879 710.4 880 710C881 709.7 882 709.3 883 708.8C884 708.4 885 707.5 886 707.1C887 706.8 888 706.4 889 706.6C890 706.9 891 708 892 708.5C893 709 894 709.5 895 709.8C896 710.2 897 710.4 898 710.6C899 710.8 900 711 901 711C902 711 903 711 904 710.9C905 710.7 906 710.5 907 710.2C908 710 909 709.6 910 709.2C911 708.7 912 708.2 913 707.6C914 707.1 915 705.8 916 705.9C917 706 918 707.4 919 708C920 708.6 921 709.1 922 709.5C923 709.9 924 710.2 925 710.4C926 710.7 927 710.8 928 710.9C929 711 930 711 931 711C932 710.9 933 710.8 934 710.6C935 710.3 936 710.1 937 709.7C938 709.3 939 708.9 940 708.4C941 707.9 942 706.9 943 706.6C944 706.4 945 706.7 946 707C947 707.4 948 708.2 949 708.7C950 709.2 951 709.5 952 709.9C953 710.2 954 710.4 955 710.6C956 710.8 957 710.9 958 711C959 711 960 711 961 710.9C962 710.8 963 710.7 964 710.4C965 710.2 966 709.9 967 709.6C968 709.2 969 708.8 970 708.3C971 707.8 972 706.8 973 706.5C974 706.3 975 706.6 976 707C977 707.3 978 708.1 979 708.6C980 709 981 709.4 982 709.7C983 710.1 984 710.3 985 710.5C986 710.7 987 710.9 988 710.9C989 711 990 711 991 711C992 710.9 993 710.8 994 710.6C995 710.5 996 710.2 997 709.9C998 709.7 999 709.3 1000 708.9C1001 708.5 1002 708 1003 707.5C1004 706.9 1005 705.7 1006 705.7C1007 705.8 1008 707.2 1009 707.7C1010 708.3 1011 708.7 1012 709.1C1013 709.5 1014 709.8 1015 710C1016 710.3 1017 710.5 1018 710.7C1019 710.8 1020 710.9 1021 711C1022 711 1023 711 1024 710.9C1025 710.8 1026 710.7 1027 710.5C1028 710.3 1029 710.1 1030 709.8C1031 709.5 1032 709.1 1033 708.7C1034 708.3 1035 707.7 1036 707.3C1037 706.8 1038 705.9 1039 706C1040 706.2 1041 707.4 1042 707.9C1043 708.4 1044 708.8 1045 709.2C1046 709.5 1047 709.9 1048 710.1C1049 710.4 1050 710.6 1051 710.7C1052 710.9 1053 711 1054 711C1055 711 1056 711 1057 710.9C1058 710.8 1059 710.7 1060 710.5C1061 710.3 1062 710 1063 709.7C1064 709.3 1065 709 1066 708.5C1067 708.1 1068 707.3 1069 707C1070 706.6 1071 706.3 1072 706.5C1073 706.7 1074 707.7 1075 708.2C1076 708.7 1077 709.1 1078 709.5C1079 709.8 1080 710.1 1081 710.3C1082 710.6 1083 710.7 1084 710.9C1085 711 1086 711 1087 711C1088 711 1089 710.9 1090 710.8C1091 710.6 1092 710.4 1093 710.1C1094 709.9 1095 709.5 1096 709.1C1097 708.7 1098 708.3 1099 707.7C1100 707.1 1101 705.5 1102 705.5C1103 705.5 1104 707.1 1105 707.7C1106 708.3 1107 708.8 1108 709.2C1109 709.6 1110 709.9 1111 710.2C1112 710.5 1113 710.7 1114 710.8C1115 710.9 1116 711 1117 711C1118 711 1119 710.9 1120 710.8C1121 710.6 1122 710.4 1123 710.1C1124 709.8 1125 709.5 1126 709C1127 708.6 1128 708 1129 707.5C1130 707 1131 705.9 1132 706C1133 706.1 1134 707.5 1135 708.1C1136 708.7 1137 709.1 1138 709.5C1139 709.9 1140 710.2 1141 710.4C1142 710.7 1143 710.8 1144 710.9C1145 711 1146 711 1147 711C1148 710.9 1149 710.7 1150 710.5C1151 710.3 1152 710 1153 709.6C1154 709.3 1155 708.8 1156 708.3C1157 707.7 1157.7 706.7 1159 706.3C1160.3 705.9 1163.2 706 1164 706" fill="none" stroke="#222" stroke-width="0.9"/>
<path d="M604 157C599.8 157.8 589.8 158.5 579 162C568.2 165.5 552.3 171.7 539 177.8C525.7 183.9 512.6 191.7 499.4 198.7C486.2 205.7 472.9 212.5 459.6 219.6C446.3 226.7 433.1 233.9 419.8 241.5C406.5 249.1 390.1 259 380 265.4C369.9 271.8 366.7 274.4 359.4 280C352.1 285.6 343.4 292.9 336.3 299.3C329.2 305.7 323.4 312.1 317 318.5C310.6 324.9 304.2 331.1 297.8 337.8C291.4 344.6 284 352 278.5 359C273 366 268.7 372.3 265 380C261.3 387.7 258.5 396 256.4 405C254.3 414 252.3 424 252.5 434C252.7 444 256.6 459.8 257.4 465L262 472C273.3 474.6 302 481.2 330 487.5C358 493.8 397.2 502.2 430 509.5C462.8 516.8 498.5 524.7 526.8 531.5C555.1 538.3 587.8 547.3 600 550.5C599.8 545.8 600.2 534.5 599 522C597.8 509.5 594.4 492.2 592.5 475.7C590.6 459.1 588.8 442.6 587.5 422.7C586.2 402.8 584.9 373.1 585 356C585.1 338.9 587 329.5 588 320C589 310.5 590 309.1 591 299C592 288.9 592.7 275.9 594 259.4C595.3 242.8 597.3 216.8 599 199.7C600.7 182.6 603.2 164.1 604 157Z" fill="#fff"/>
<path d="M586 325C583.2 325.8 575.7 327.5 569 330C562.3 332.5 550.9 335.7 546 340C541.1 344.3 540.8 350 539.5 356C538.2 362 540.2 371 538 376C535.8 381 533 383.2 526 386C519 388.8 503.2 390.2 496 393C488.8 395.8 485.2 398.1 483 403C480.8 407.9 481.1 417.2 483 422.7C484.9 428.2 493.9 432.1 494.7 436C495.5 439.9 492.7 443.2 488 446C483.3 448.8 471.8 449.2 466.5 452.5C461.2 455.8 457.6 459.9 456.5 466C455.4 472.1 457.8 480.4 460 489C462.2 497.6 468.3 512.8 470 517.5C479.5 519.8 505.1 526 526.8 531.5C548.5 537 587.8 547.3 600 550.5C599.8 545.8 600.2 534.5 599 522C597.8 509.5 594.4 492.2 592.5 475.7C590.6 459.1 588.8 442.6 587.5 422.7C586.2 402.8 585.2 372.3 585 356C584.8 339.7 585.8 330.2 586 325Z" fill="#f2f2f2"/>
<path d="M575 490C573.5 491.7 567.2 495 566 500C564.8 505 566 514.7 568 520C570 525.3 574.3 528.7 578 532C581.7 535.3 586.3 536.9 590 540C593.7 543.1 598.3 548.8 600 550.5C599.8 545.8 600 532.1 599 522C598 511.9 595.8 498.7 594 490C592.2 481.3 590.3 472 588 470C585.7 468 582.2 474.7 580 478C577.8 481.3 575.8 488 575 490Z" fill="#e9e9ea"/>
<path d="M604 157C599.8 157.8 589.8 158.5 579 162C568.2 165.5 552.3 171.7 539 177.8C525.7 183.9 512.6 191.7 499.4 198.7C486.2 205.7 472.9 212.5 459.6 219.6C446.3 226.7 433.1 233.9 419.8 241.5C406.5 249.1 390.1 259 380 265.4C369.9 271.8 366.7 274.4 359.4 280C352.1 285.6 343.4 292.9 336.3 299.3C329.2 305.7 323.4 312.1 317 318.5C310.6 324.9 304.2 331.1 297.8 337.8C291.4 344.6 284 352 278.5 359C273 366 268.7 372.3 265 380C261.3 387.7 258.5 396 256.4 405C254.3 414 252.3 424 252.5 434C252.7 444 256.6 459.8 257.4 465" fill="none" stroke="#222" stroke-width="1.1"/>
<path d="M600 550.5C599.8 545.8 600.2 534.5 599 522C597.8 509.5 594.4 492.2 592.5 475.7C590.6 459.1 588.8 442.6 587.5 422.7C586.2 402.8 584.9 373.1 585 356C585.1 338.9 587 329.5 588 320C589 310.5 590 309.1 591 299C592 288.9 592.7 275.9 594 259.4C595.3 242.8 597.3 216.8 599 199.7C600.7 182.6 603.2 164.1 604 157" fill="none" stroke="#222" stroke-width="1.1"/>
<path d="M643 345C643.7 340.8 645.5 335.3 648 333C650.5 330.7 655.7 329 658 331C660.3 333 661.7 339.8 662 345C662.3 350.2 662 358.2 660 362C658 365.8 652.7 368.7 650 368C647.3 367.3 645.2 361.8 644 358C642.8 354.2 642.3 349.2 643 345Z" fill="#fff"/>
<path d="M634 157C637.6 159 647.8 163.3 655.7 168.8C663.6 174.3 672.9 183.1 681.4 190.2C689.9 197.3 698.5 203.9 707 211.6C715.5 219.3 724.1 228.2 732.7 236.5C741.3 244.8 748.9 251.8 758.4 261.3C767.9 270.9 778.1 281.2 790 293.8C801.9 306.4 816.9 322.2 830 337C843.1 351.8 855 364.7 868.5 382.6C882 400.5 903.9 434.3 911 444.6C905.2 446.2 890.9 450.4 876 454.5C861.1 458.6 839.7 464.7 821.5 469.5C803.3 474.3 785 479.3 766.8 483.5C748.5 487.7 731.4 491.1 712 494.5C692.6 497.9 662.3 502.2 650.5 504C638.7 505.8 642.6 505.2 641 505.5C642.3 499.4 646.8 478.2 649 469C651.2 459.8 652.7 463.1 654 450C655.3 436.9 656.2 408.5 657 390.6C657.8 372.7 659.2 358.6 659 342.5C658.8 326.4 657.4 310.1 655.7 294C654 277.9 651.1 262 649 246C646.9 230 645.2 212.8 642.8 198C640.4 183.2 635.9 163.8 634.5 157Z" fill="#fff"/>
<path d="M658 333C659.8 331.7 664.5 325 669 325C673.5 325 682 327.8 685 333C688 338.2 687.5 346.6 687 356C686.5 365.4 683.4 379.5 682 389.5C680.6 399.5 677 408.2 678.7 416C680.4 423.8 686.5 430.5 692 436C697.5 441.5 702.6 445.7 712 449C721.4 452.3 740.1 452.7 748.4 456C756.7 459.3 759.8 464.2 761.7 469C763.6 473.8 760.3 482.3 760 485C752 486.6 730.2 491.3 712 494.5C693.8 497.7 662.3 502.2 650.5 504C638.7 505.8 642.6 505.2 641 505.5C642.3 499.4 646.6 482.8 649 469C651.4 455.2 654 441.5 655.5 422.7C657 403.9 657.6 370.9 658 356C658.4 341.1 658 336.8 658 333Z" fill="#f2f2f2"/>
<path d="M652 470C654.2 468.7 658.7 462 665 462C671.3 462 683.3 467 690 470C696.7 473 703 475.7 705 480C707 484.3 702.5 493.3 702 496C693.4 497.3 660.7 502.4 650.5 504C640.3 505.6 642.6 505.2 641 505.5C642 502.1 645.2 490.9 647 485C648.8 479.1 651.2 472.5 652 470Z" fill="#e9e9ea"/>
<path d="M634 157C637.6 159 647.8 163.3 655.7 168.8C663.6 174.3 672.9 183.1 681.4 190.2C689.9 197.3 698.5 203.9 707 211.6C715.5 219.3 724.1 228.2 732.7 236.5C741.3 244.8 748.9 251.8 758.4 261.3C767.9 270.9 778.1 281.2 790 293.8C801.9 306.4 816.9 322.2 830 337C843.1 351.8 855 364.7 868.5 382.6C882 400.5 903.9 434.3 911 444.6" fill="none" stroke="#222" stroke-width="1.1"/>
<path d="M641 505.5C642.3 499.4 646.8 478.2 649 469C651.2 459.8 652.7 463.1 654 450C655.3 436.9 656.2 408.5 657 390.6C657.8 372.7 659.2 358.6 659 342.5C658.8 326.4 657.4 310.1 655.7 294C654 277.9 651.1 262 649 246C646.9 230 645.2 212.8 642.8 198C640.4 183.2 635.9 163.8 634.5 157" fill="none" stroke="#222" stroke-width="1.1"/>
<path d="M634 158C640 170 646 185 650 200M636 158C648 172 656 184 662 196M638 160C650 168 660 176 668 186" fill="none" stroke="#555" stroke-width="0.6"/>
<path d="M914 443C905 432 895 424 885 418M912 444C900 436 890 432 880 430" fill="none" stroke="#777" stroke-width="0.5"/>
<path d="M641 505C645 495 648 488 652 480M643 505C650 497 655 492 660 486" fill="none" stroke="#777" stroke-width="0.5"/>
<path d="M238.3 466.3L430 509Q526.8 531 604.5 551.2L603 558.2Q526.8 537.5 430 516.8L239 472.4Q235.5 469.3 238.3 466.3Z" fill="#fff" stroke="#fff" stroke-width="2.4"/>
<path d="M238.3 466.3L430 509Q526.8 531 604.5 551.2L603 558.2Q526.8 537.5 430 516.8L239 472.4Q235.5 469.3 238.3 466.3Z" fill="#f6e1b8" stroke="#3a332b" stroke-width="0.8"/>
<path d="M240 470.8L430 514.8Q526.8 535.5 603.4 556.2L603 558.2Q526.8 537.5 430 516.8L239 472.4Z" fill="#e7cf9f"/>
<path d="M597.5 548.6L605 550.6L603.4 558.6L596 556.4Z" fill="#c9d4f4" stroke="#6a7394" stroke-width="0.7"/>
<path d="M650.5 503.4C660.8 501.8 692.6 497.3 712 493.9C731.4 490.5 748.5 487.1 766.8 483C785 478.9 803.3 473.8 821.5 469C839.7 464.2 861 458.1 876 454C891 449.9 900.8 447.4 911.8 444.6C922.8 441.8 937 438.3 942 437Q946 437 943.5 440.8C938.2 442.6 923 448.1 911.8 451.5C900.5 454.9 891 456.9 876 461C861 465.1 839.7 471.1 821.5 476C803.3 480.9 785 486.5 766.8 490.6C748.5 494.7 731.4 497.4 712 500.7C692.6 504 660.8 508.7 650.5 510.3Z" fill="#fff" stroke="#fff" stroke-width="2.6"/>
<path d="M650.5 503.4C660.8 501.8 692.6 497.3 712 493.9C731.4 490.5 748.5 487.1 766.8 483C785 478.9 803.3 473.8 821.5 469C839.7 464.2 861 458.1 876 454C891 449.9 900.8 447.4 911.8 444.6C922.8 441.8 937 438.3 942 437Q946 437 943.5 440.8C938.2 442.6 923 448.1 911.8 451.5C900.5 454.9 891 456.9 876 461C861 465.1 839.7 471.1 821.5 476C803.3 480.9 785 486.5 766.8 490.6C748.5 494.7 731.4 497.4 712 500.7C692.6 504 660.8 508.7 650.5 510.3Z" fill="#f6e1b8" stroke="#3a332b" stroke-width="0.8"/>
<path d="M943.5 439.2C938.2 441 923 446.5 911.8 449.9C900.5 453.3 891 455.3 876 459.4C861 463.5 839.7 469.5 821.5 474.4C803.3 479.3 785 484.9 766.8 489C748.5 493.1 731.4 495.8 712 499.1C692.6 502.4 660.8 507.1 650.5 508.7" fill="none" stroke="#e7cf9f" stroke-width="1.6"/>
<path d="M605.5 156L634 156L635 612L605 612Z" fill="#fff"/>
<path d="M606 512L612 512L612 606L605.3 606Z" fill="#f0f0f2"/>
<path d="M629 512L634.6 512L635 606L629 606Z" fill="#f0f0f2"/>
<path d="M605.5 156L605 612M634 156L635 612" fill="none" stroke="#6e6e74" stroke-width="1.2"/>
<path d="M608.2 158L608.2 606" fill="none" stroke="#bbb" stroke-width="0.5"/>
<path d="M614.5 118L627 118L627.5 153L613.5 153Z" fill="#f8e2b9" stroke="#3a332b" stroke-width="0.8"/>
<path d="M613 117h15.5v6.5h-15.5Z" fill="#dfe5f8" stroke="#3a332b" stroke-width="0.7"/>
<circle cx="621" cy="106" r="10" fill="#f8deb0" stroke="#3a332b" stroke-width="0.8"/>
<path d="M606 154Q620 150.5 634.5 154L634.5 158L606 158Z" fill="#fff" stroke="#55555c" stroke-width="0.7"/>
<path d="M603.5 504h33v7h-33Z" fill="#c9d4f4" stroke="#8d98b8" stroke-width="0.6"/>
<path d="M604 506.5h32" fill="none" stroke="#fff" stroke-width="1.4"/>
<path d="M603.5 552h33v8h-33Z" fill="#c9d4f4" stroke="#8d98b8" stroke-width="0.6"/>
<path d="M604 555h32" fill="none" stroke="#fff" stroke-width="1.4"/>
<path d="M603 607h33.5v21h-33.5Z" fill="#d6def7" stroke="#8d98b8" stroke-width="0.6"/>
<path d="M603.5 611h32.5" fill="none" stroke="#b4c2ee" stroke-width="2.5"/>
<path d="M611 607v21M626 607v21" fill="none" stroke="#f4f6fd" stroke-width="4"/>
<path d="M638 503.5h12v7h-12Z" fill="#c9d4f4" stroke="#8d98b8" stroke-width="0.6"/>
<path d="M629 123C632.3 123.7 640.7 126.1 649 127C657.3 127.9 668.7 129.3 679 128.5C689.3 127.7 701.8 123.2 711 122C720.2 120.8 727.7 120.4 734 121.5C740.3 122.6 746.5 127.3 749 128.5C744.8 129.3 732.3 131.1 724 133.5C715.7 135.9 707.3 139.6 699 143C690.7 146.4 681.5 151.5 674 154C666.5 156.5 661 157.8 654 158C647 158.2 635.7 155.5 632 155C632.3 152.5 634.5 145.3 634 140C633.5 134.7 629.8 125.8 629 123Z" fill="#a9c3f5" stroke="#6d82b5" stroke-width="0.7"/>
<path d="M631 128C650 136 680 134 705 128" fill="none" stroke="#8ea9e2" stroke-width="0.7"/>
<path d="M640 614H806V634H640Z" fill="#f1dfb2" stroke="#4a4236" stroke-width="0.7"/>
<path d="M637 608.5H811V615H637Z" fill="#f7e8c0" stroke="#4a4236" stroke-width="0.7"/>
<circle cx="659.5" cy="628" r="9.5" fill="#fff" stroke="#6b6f7d" stroke-width="0.8"/>
<circle cx="659.5" cy="628.5" r="6.5" fill="#c3cff2" stroke="#6b6f7d" stroke-width="0.6"/>
<circle cx="704" cy="628" r="9.5" fill="#fff" stroke="#6b6f7d" stroke-width="0.8"/>
<circle cx="704" cy="628.5" r="6.5" fill="#c3cff2" stroke="#6b6f7d" stroke-width="0.6"/>
<path d="M908.2 664.7L913.4 664.7L911.1 681.2L920 682.4L923.8 688.2L918.1 707.1L898.8 709.9L887.1 705.2Z" fill="#fff" stroke="#fff" stroke-width="3"/>
<path d="M908.2 664.7L913.4 664.7L911.1 681.2L920 682.4L923.8 688.2L918.1 707.1L898.8 709.9L887.1 705.2Z" fill="#f6e1b8" stroke="#4a4236" stroke-width="0.8"/>
<path d="M911.8 681.2L910.6 707.1" fill="none" stroke="#cbb27f" stroke-width="0.7"/>
<path d="M381.2 527.6C380 524.9 382.4 524 384.5 522.5C386.5 521 390 519.1 393.4 518.6C396.9 518.1 401.6 518.1 405 519.3C408.4 520.4 411.7 522.9 414 525.7C416.2 528.5 417.2 532.9 418.5 535.9C419.8 538.9 419.9 541.7 421.7 543.6C423.5 545.6 426.3 546.8 429.4 547.8C432.5 548.7 439.2 548 440.3 549.4C441.4 550.9 437.8 554.7 435.8 556.5C433.8 558.3 428.4 558.2 428.1 560.3C427.8 562.5 433.2 566.5 433.9 569.3C434.5 572.1 433.7 574.9 432 577C430.2 579.2 425.7 580 423.6 582.2C421.5 584.3 420.9 586.6 419.1 589.9C417.3 593.1 414.6 600.6 412.7 601.4C410.8 602.3 409.7 597.1 407.6 595C405.4 592.9 401.6 591.1 399.9 588.6C398.1 586 397.5 583.2 397.3 579.6C397.1 576 398.6 570.6 398.6 566.8C398.6 562.9 398.4 561.2 397.3 556.5C396.2 551.8 394.8 543.3 392.2 538.5C389.5 533.7 382.5 530.3 381.2 527.6Z" fill="#fff" stroke="#fff" stroke-width="3.2"/>
<path d="M319.6 594.7C317.3 592.1 318.9 585.4 319.6 582.2C320.4 578.9 322.1 576.6 324.1 575.1C326.2 573.6 329.3 572.8 331.8 573.2C334.4 573.5 337.2 575.3 339.5 577C341.9 578.7 344.2 581.5 345.9 583.4C347.7 585.4 348.1 585.8 350.1 588.8C352 591.8 358.7 599.7 357.8 601.4C356.9 603.1 347.9 600.6 344.7 599.1C341.5 597.6 340.3 592.9 338.5 592.7C336.7 592.5 336.9 597.5 333.7 597.8C330.6 598.2 322 597.3 319.6 594.7Z" fill="#fff" stroke="#fff" stroke-width="3.2"/>
<path d="M344 550.7C343.1 547.6 345.6 546.1 348.5 546.9C351.4 547.6 358 552.5 361.3 555.2C364.7 557.9 367.9 560.3 368.4 563.2C368.9 566 366.9 572.1 364.6 572.5C362.2 572.9 357.7 569.1 354.3 565.5C350.9 561.8 345 553.8 344 550.7Z" fill="#fff" stroke="#fff" stroke-width="3.2"/>
<path d="M362.6 574.5C363.5 571.6 364.1 565.7 366.5 562.9C368.8 560.1 372.9 558.3 376.8 557.8C380.6 557.2 386.3 558.8 389.6 559.7C392.8 560.5 394.8 560.9 396.3 562.9C397.8 564.9 398.6 568.5 398.6 571.9C398.6 575.3 397.3 579.6 396.3 583.4C395.2 587.3 393.7 591.3 392.2 595C390.7 598.7 390.7 604.2 387.3 605.5C383.9 606.8 376.6 603.8 371.6 603C366.7 602.1 361.1 603 357.5 600.4C353.9 597.8 349.2 591 349.8 587.5C350.4 584.1 359.2 582 361.3 579.8C363.5 577.7 361.8 577.3 362.6 574.5Z" fill="#fff" stroke="#fff" stroke-width="3.2"/>
<path d="M374.8 542.4C375 539.8 376.6 537.8 378 535.9C379.4 534.1 380.8 532.4 383.2 531.5C385.5 530.5 389.4 529.2 392.2 530.2C394.9 531.1 398.3 534.1 399.9 537.2C401.5 540.3 402.2 545.6 401.8 548.8C401.4 552 399.3 554.7 397.3 556.5C395.3 558.3 392.2 559.5 389.6 559.7C387 559.9 384 559.2 381.9 557.8C379.7 556.4 377.9 553.9 376.8 551.3C375.6 548.8 374.6 544.9 374.8 542.4Z" fill="#fff" stroke="#fff" stroke-width="3.2"/>
<path d="M381.2 527.6C380 524.9 382.4 524 384.5 522.5C386.5 521 390 519.1 393.4 518.6C396.9 518.1 401.6 518.1 405 519.3C408.4 520.4 411.7 522.9 414 525.7C416.2 528.5 417.2 532.9 418.5 535.9C419.8 538.9 419.9 541.7 421.7 543.6C423.5 545.6 426.3 546.8 429.4 547.8C432.5 548.7 439.2 548 440.3 549.4C441.4 550.9 437.8 554.7 435.8 556.5C433.8 558.3 428.4 558.2 428.1 560.3C427.8 562.5 433.2 566.5 433.9 569.3C434.5 572.1 433.7 574.9 432 577C430.2 579.2 425.7 580 423.6 582.2C421.5 584.3 420.9 586.6 419.1 589.9C417.3 593.1 414.6 600.6 412.7 601.4C410.8 602.3 409.7 597.1 407.6 595C405.4 592.9 401.6 591.1 399.9 588.6C398.1 586 397.5 583.2 397.3 579.6C397.1 576 398.6 570.6 398.6 566.8C398.6 562.9 398.4 561.2 397.3 556.5C396.2 551.8 394.8 543.3 392.2 538.5C389.5 533.7 382.5 530.3 381.2 527.6Z" fill="#f7edcd" stroke="#2b2b2b" stroke-width="0.8"/>
<path d="M319.6 594.7C317.3 592.1 318.9 585.4 319.6 582.2C320.4 578.9 322.1 576.6 324.1 575.1C326.2 573.6 329.3 572.8 331.8 573.2C334.4 573.5 337.2 575.3 339.5 577C341.9 578.7 344.2 581.5 345.9 583.4C347.7 585.4 348.1 585.8 350.1 588.8C352 591.8 358.7 599.7 357.8 601.4C356.9 603.1 347.9 600.6 344.7 599.1C341.5 597.6 340.3 592.9 338.5 592.7C336.7 592.5 336.9 597.5 333.7 597.8C330.6 598.2 322 597.3 319.6 594.7Z" fill="#1f1f21" stroke="#2b2b2b" stroke-width="0.8"/>
<path d="M322.8 594.4C322.8 592.5 322.2 586.1 322.8 583.4C323.5 580.8 325.1 579.4 326.7 578.3C328.3 577.2 331.5 577.2 332.5 577" fill="none" stroke="#6a6a70" stroke-width="0.8"/>
<path d="M344 550.7C343.1 547.6 345.6 546.1 348.5 546.9C351.4 547.6 358 552.5 361.3 555.2C364.7 557.9 367.9 560.3 368.4 563.2C368.9 566 366.9 572.1 364.6 572.5C362.2 572.9 357.7 569.1 354.3 565.5C350.9 561.8 345 553.8 344 550.7Z" fill="#fce4d2" stroke="#2b2b2b" stroke-width="0.8"/>
<path d="M362.6 574.5C363.5 571.6 364.1 565.7 366.5 562.9C368.8 560.1 372.9 558.3 376.8 557.8C380.6 557.2 386.3 558.8 389.6 559.7C392.8 560.5 394.8 560.9 396.3 562.9C397.8 564.9 398.6 568.5 398.6 571.9C398.6 575.3 397.3 579.6 396.3 583.4C395.2 587.3 393.7 591.3 392.2 595C390.7 598.7 390.7 604.2 387.3 605.5C383.9 606.8 376.6 603.8 371.6 603C366.7 602.1 361.1 603 357.5 600.4C353.9 597.8 349.2 591 349.8 587.5C350.4 584.1 359.2 582 361.3 579.8C363.5 577.7 361.8 577.3 362.6 574.5Z" fill="#f8f091" stroke="#2b2b2b" stroke-width="0.8"/>
<path d="M363.9 575.1C366.1 575.6 372 578.4 376.8 578.3C381.5 578.2 389.6 575.1 392.2 574.5" fill="none" stroke="#cfc766" stroke-width="0.8"/>
<path d="M374.8 542.4C375 539.8 376.6 537.8 378 535.9C379.4 534.1 380.8 532.4 383.2 531.5C385.5 530.5 389.4 529.2 392.2 530.2C394.9 531.1 398.3 534.1 399.9 537.2C401.5 540.3 402.2 545.6 401.8 548.8C401.4 552 399.3 554.7 397.3 556.5C395.3 558.3 392.2 559.5 389.6 559.7C387 559.9 384 559.2 381.9 557.8C379.7 556.4 377.9 553.9 376.8 551.3C375.6 548.8 374.6 544.9 374.8 542.4Z" fill="#fce4d2" stroke="#2b2b2b" stroke-width="0.8"/>
<path d="M388.6 547.5C388.6 546.1 391.3 543.4 392.8 543.4C394.3 543.4 397.3 546.1 397.3 547.5C397.3 548.9 394.3 551.6 392.8 551.6C391.3 551.6 388.6 548.9 388.6 547.5Z" fill="#f6b1a6"/>
<path d="M379.3 538.5L380.6 541.7" fill="none" stroke="#2b2b2b" stroke-width="0.7"/>
<path d="M388.3 538.5C388.8 538.3 390.4 537.5 391.5 537.5C392.6 537.5 394.2 538.3 394.7 538.5" fill="none" stroke="#2b2b2b" stroke-width="0.7"/>
<path d="M381.2 548.1C381.8 547.9 383.5 546.7 384.5 546.9C385.4 547 386.6 548.5 387 548.8" fill="none" stroke="#2b2b2b" stroke-width="0.7"/>
<path d="M381.2 527.6C380.8 526.5 384.3 524.1 387 523.1C389.7 522.1 394.3 521.4 397.3 521.8C400.3 522.3 402.9 523.5 405 525.7C407.1 527.8 409.1 531.2 410.1 534.7C411.2 538.1 411.8 542.6 411.4 546.2C411 549.9 409.1 555.6 407.6 556.5C406.1 557.3 403.4 553.9 402.4 551.3C401.5 548.8 402.6 544.1 401.8 541.1C400.9 538.1 399.3 535.3 397.3 533.4C395.3 531.5 392.3 530.5 389.6 529.5C386.9 528.6 381.7 528.7 381.2 527.6Z" fill="#f7edcd" stroke="#2b2b2b" stroke-width="0.8"/>
<path d="M411.4 546.2C412.3 548.1 415.9 553.5 416.5 557.8C417.2 562 416.3 567 415.3 571.9C414.2 576.8 411 584.7 410.1 587.3" fill="none" stroke="#dccfa4" stroke-width="1"/>
<path d="M407.6 556.5C407.8 558.6 409.3 565 408.8 569.3C408.4 573.6 405.6 580 405 582.2" fill="none" stroke="#dccfa4" stroke-width="0.9"/>
<path d="M423 551.3C423.4 553.1 425.5 558.2 425.5 561.6C425.5 565 423.4 570.2 423 571.9" fill="none" stroke="#dccfa4" stroke-width="0.9"/>
<path d="M420.9 609.1C418.1 606.9 422.5 601.4 424.1 598.6C425.7 595.8 425.8 595.8 430.5 592.2C435.2 588.5 447.2 580 452.4 576.8C457.5 573.5 458.4 573.2 461.3 572.9C464.3 572.6 468.5 573.1 470.3 574.8C472.2 576.5 472.9 580.1 472.5 583.2C472.1 586.3 469.8 590 468 593.4C466.2 596.9 463 600.4 461.6 603.7C460.2 607.1 463.1 612.3 459.7 613.6C456.2 614.9 447.3 612.4 440.8 611.7C434.3 610.9 423.7 611.3 420.9 609.1Z" fill="#fff" stroke="#fff" stroke-width="3.2"/>
<path d="M451.1 549.8C451.6 548.7 454.5 549.6 456.2 548.5C457.9 547.4 459.4 544.6 461.3 543.4C463.3 542.2 465.8 540.6 467.8 541.5C469.7 542.3 472.2 545.6 473.2 548.5C474.2 551.4 474 555.6 473.8 558.8C473.6 562 473.5 565.6 471.9 567.8C470.2 569.9 466.5 571.6 463.9 571.9C461.3 572.1 457.9 570.6 456.2 569.3C454.5 568 453.8 565.6 453.6 563.9C453.5 562.3 455.7 560.9 455.6 559.4C455.5 557.9 453.8 556.5 453 554.9C452.3 553.3 450.5 550.9 451.1 549.8Z" fill="#fff" stroke="#fff" stroke-width="3.2"/>
<path d="M458.8 535C458.1 533.2 461.3 531.5 463.9 531.2C466.5 530.9 470.8 532.4 474.2 533.1C477.6 533.9 481.2 534 484.5 535.7C487.7 537.4 491 540.4 493.4 543.4C495.8 546.4 498.8 550.7 498.8 553.6C498.9 556.6 495.2 558.6 493.7 561.3C492.2 564.1 492.2 567.9 489.8 570.3C487.4 572.7 482.4 575.5 479.3 575.7C476.3 576 472.7 574.3 471.6 571.9C470.5 569.5 473.1 564.6 472.9 561.3C472.7 558.1 471.2 555.6 470.3 552.4C469.5 549.2 469.7 545 467.8 542.1C465.8 539.2 459.4 536.9 458.8 535Z" fill="#fff" stroke="#fff" stroke-width="3.2"/>
<path d="M473.4 561.3a3.4 3.4 0 1 0 6.8 0a3.4 3.4 0 1 0 -6.8 0Z" fill="#fff" stroke="#fff" stroke-width="3.2"/>
<path d="M420.9 609.1C418.1 606.9 422.5 601.4 424.1 598.6C425.7 595.8 425.8 595.8 430.5 592.2C435.2 588.5 447.2 580 452.4 576.8C457.5 573.5 458.4 573.2 461.3 572.9C464.3 572.6 468.5 573.1 470.3 574.8C472.2 576.5 472.9 580.1 472.5 583.2C472.1 586.3 469.8 590 468 593.4C466.2 596.9 463 600.4 461.6 603.7C460.2 607.1 463.1 612.3 459.7 613.6C456.2 614.9 447.3 612.4 440.8 611.7C434.3 610.9 423.7 611.3 420.9 609.1Z" fill="#9f93d6" stroke="#2b2b2b" stroke-width="0.8"/>
<path d="M451.1 549.8C451.6 548.7 454.5 549.6 456.2 548.5C457.9 547.4 459.4 544.6 461.3 543.4C463.3 542.2 465.8 540.6 467.8 541.5C469.7 542.3 472.2 545.6 473.2 548.5C474.2 551.4 474 555.6 473.8 558.8C473.6 562 473.5 565.6 471.9 567.8C470.2 569.9 466.5 571.6 463.9 571.9C461.3 572.1 457.9 570.6 456.2 569.3C454.5 568 453.8 565.6 453.6 563.9C453.5 562.3 455.7 560.9 455.6 559.4C455.5 557.9 453.8 556.5 453 554.9C452.3 553.3 450.5 550.9 451.1 549.8Z" fill="#fce4d2" stroke="#2b2b2b" stroke-width="0.8"/>
<path d="M458.8 561.3C458.8 560.1 461.3 557.8 462.6 557.8C463.9 557.8 466.5 560.1 466.5 561.3C466.5 562.5 463.9 564.9 462.6 564.9C461.3 564.9 458.8 562.5 458.8 561.3Z" fill="#f6b1a6"/>
<path d="M458.8 535C458.1 533.2 461.3 531.5 463.9 531.2C466.5 530.9 470.8 532.4 474.2 533.1C477.6 533.9 481.2 534 484.5 535.7C487.7 537.4 491 540.4 493.4 543.4C495.8 546.4 498.8 550.7 498.8 553.6C498.9 556.6 495.2 558.6 493.7 561.3C492.2 564.1 492.2 567.9 489.8 570.3C487.4 572.7 482.4 575.5 479.3 575.7C476.3 576 472.7 574.3 471.6 571.9C470.5 569.5 473.1 564.6 472.9 561.3C472.7 558.1 471.2 555.6 470.3 552.4C469.5 549.2 469.7 545 467.8 542.1C465.8 539.2 459.4 536.9 458.8 535Z" fill="#8b6a5b" stroke="#2b2b2b" stroke-width="0.8"/>
<path d="M473.4 561.3a3.4 3.4 0 1 0 6.8 0a3.4 3.4 0 1 0 -6.8 0Z" fill="#fce4d2" stroke="#2b2b2b" stroke-width="0.8"/>
<path d="M462 550.8L463.3 553" fill="none" stroke="#2b2b2b" stroke-width="0.8"/>
<path d="M454.3 561.3C454.7 561.7 455.9 563.6 456.9 563.7C457.8 563.8 459.5 562.3 460.1 562" fill="none" stroke="#2b2b2b" stroke-width="0.7"/>
<path d="M450.4 576.4C448.7 575.5 452.9 573.3 456.2 572.9C459.5 572.5 468.6 573.3 470.3 574.2C472 575.1 469.8 577.9 466.5 578.3C463.2 578.7 452.1 577.3 450.4 576.4Z" fill="#b3a8e2" stroke="#6e63a8" stroke-width="0.6"/>
<path d="M426 591.1C427.7 590.3 431.3 586.2 435.7 586C440.1 585.8 449.6 589.2 452.4 589.8" fill="none" stroke="#6e63a8" stroke-width="0.8"/>
<path d="M433.1 595.6C435.7 595.9 445.2 598.4 448.5 597.5C451.8 596.6 452.3 591.5 453 590.2" fill="none" stroke="#6e63a8" stroke-width="0.8"/>
<path d="M258 467.5C265 474.1 286.2 494.2 300 507C313.8 519.8 333.8 538.2 340.5 544.5" fill="none" stroke="#fff" stroke-width="6.8"/>
<path d="M258 467.5C265 474.1 286.2 494.2 300 507C313.8 519.8 333.8 538.2 340.5 544.5" fill="none" stroke="#3b3836" stroke-width="4.4"/>
<path d="M258 467.5C265 474.1 286.2 494.2 300 507C313.8 519.8 333.8 538.2 340.5 544.5" fill="none" stroke="#8d8a86" stroke-width="2.9"/>
<path d="M348.5 549.4C349.8 550.3 353.6 553.2 356.2 554.6C358.8 555.9 360.1 557.2 363.9 557.8C367.8 558.3 373.3 556.3 379.3 558C385.3 559.7 392.8 564.6 399.9 568C406.9 571.5 418 576.8 421.7 578.6" fill="none" stroke="#fff" stroke-width="6.4"/>
<path d="M348.5 549.4C349.8 550.3 353.6 553.2 356.2 554.6C358.8 555.9 360.1 557.2 363.9 557.8C367.8 558.3 373.3 556.3 379.3 558C385.3 559.7 392.8 564.6 399.9 568C406.9 571.5 418 576.8 421.7 578.6" fill="none" stroke="#3b3836" stroke-width="4"/>
<path d="M348.5 549.4C349.8 550.3 353.6 553.2 356.2 554.6C358.8 555.9 360.1 557.2 363.9 557.8C367.8 558.3 373.3 556.3 379.3 558C385.3 559.7 392.8 564.6 399.9 568C406.9 571.5 418 576.8 421.7 578.6" fill="none" stroke="#8d8a86" stroke-width="2.5"/>
<path d="M470 590.8C472.5 591.3 481 593 485 594C489 595 492.5 596.1 494 596.5" fill="none" stroke="#fff" stroke-width="6.4"/>
<path d="M470 590.8C472.5 591.3 481 593 485 594C489 595 492.5 596.1 494 596.5" fill="none" stroke="#3b3836" stroke-width="4"/>
<path d="M470 590.8C472.5 591.3 481 593 485 594C489 595 492.5 596.1 494 596.5" fill="none" stroke="#8d8a86" stroke-width="2.5"/>
<path d="M335 547.8C335.7 546 337.7 543.5 339.5 542.4C341.4 541.2 344.7 540.2 346.2 541.1C347.7 541.9 348.8 545.3 348.8 547.5C348.8 549.7 347.7 552.6 346.2 554.2C344.7 555.7 341.3 557 339.5 556.7C337.8 556.5 336.4 554.4 335.7 552.9C334.9 551.4 334.4 549.5 335 547.8Z" fill="#fff" stroke="#fff" stroke-width="2.4"/>
<path d="M416.5 581.1C416.1 578.9 418.3 576.9 420.4 575.7C422.5 574.6 426.4 574.2 429.4 574.5C432.4 574.7 436.6 575.7 438.4 577C440.1 578.3 440.8 580.4 439.9 582.2C439.1 583.9 436.1 586.4 433.2 587.5C430.4 588.7 425.7 589.9 423 588.8C420.2 587.8 417 583.3 416.5 581.1Z" fill="#fff" stroke="#fff" stroke-width="2.4"/>
<path d="M416.4 579.6C416.8 577.4 420.7 575.9 422.8 575.5C425 575 427.5 575.7 429.3 576.8C431 577.8 433.4 580.1 433.4 581.9C433.4 583.6 431.4 586.2 429.3 587.3C427.1 588.4 422.4 589.8 420.3 588.6C418.1 587.3 416 581.8 416.4 579.6Z" fill="#fff" stroke="#fff" stroke-width="2.4"/>
<path d="M430.5 578.3C431.3 577.2 434.1 575.8 435.7 576.1C437.2 576.4 439.8 578.5 439.8 580C439.8 581.4 437.1 584.3 435.7 584.7C434.2 585.1 432 583.6 431.2 582.5C430.3 581.5 429.8 579.4 430.5 578.3Z" fill="#fff" stroke="#fff" stroke-width="2.4"/>
<path d="M335 547.8C335.7 546 337.7 543.5 339.5 542.4C341.4 541.2 344.7 540.2 346.2 541.1C347.7 541.9 348.8 545.3 348.8 547.5C348.8 549.7 347.7 552.6 346.2 554.2C344.7 555.7 341.3 557 339.5 556.7C337.8 556.5 336.4 554.4 335.7 552.9C334.9 551.4 334.4 549.5 335 547.8Z" fill="#fce4d2" stroke="#2b2b2b" stroke-width="0.8"/>
<path d="M416.5 581.1C416.1 578.9 418.3 576.9 420.4 575.7C422.5 574.6 426.4 574.2 429.4 574.5C432.4 574.7 436.6 575.7 438.4 577C440.1 578.3 440.8 580.4 439.9 582.2C439.1 583.9 436.1 586.4 433.2 587.5C430.4 588.7 425.7 589.9 423 588.8C420.2 587.8 417 583.3 416.5 581.1Z" fill="#fce4d2" stroke="#2b2b2b" stroke-width="0.8"/>
<path d="M416.4 579.6C416.8 577.4 420.7 575.9 422.8 575.5C425 575 427.5 575.7 429.3 576.8C431 577.8 433.4 580.1 433.4 581.9C433.4 583.6 431.4 586.2 429.3 587.3C427.1 588.4 422.4 589.8 420.3 588.6C418.1 587.3 416 581.8 416.4 579.6Z" fill="#fce4d2" stroke="#2b2b2b" stroke-width="0.8"/>
<path d="M430.5 578.3C431.3 577.2 434.1 575.8 435.7 576.1C437.2 576.4 439.8 578.5 439.8 580C439.8 581.4 437.1 584.3 435.7 584.7C434.2 585.1 432 583.6 431.2 582.5C430.3 581.5 429.8 579.4 430.5 578.3Z" fill="#fce4d2" stroke="#2b2b2b" stroke-width="0.8"/>
<path d="M254 463a4.5 4.5 0 1 0 9 0a4.5 4.5 0 1 0 -9 0Z" fill="#cfd0d6" stroke="#45423f" stroke-width="0.9"/>
<path d="M251 466C254 462 260 462 262 466C263 470 259 475 254 474" fill="none" stroke="#45423f" stroke-width="2.2"/>
<path d="M251 466C254 462 260 462 262 466C263 470 259 475 254 474" fill="none" stroke="#8d8a86" stroke-width="1"/>
<path d="M571.8 624.6C572.5 622.8 574.1 616.9 575.7 614C577.3 611.2 579.4 609 581.4 607.5C583.4 606 585.9 604.9 587.6 605C589.4 605.1 591.5 606.9 592 608.1C592.4 609.4 590.7 611.8 590.4 612.5" fill="none" stroke="#fff" stroke-width="6.8"/>
<path d="M571.8 624.6C572.5 622.8 574.1 616.9 575.7 614C577.3 611.2 579.4 609 581.4 607.5C583.4 606 585.9 604.9 587.6 605C589.4 605.1 591.5 606.9 592 608.1C592.4 609.4 590.7 611.8 590.4 612.5" fill="none" stroke="#4a4644" stroke-width="4.6"/>
<path d="M571.8 624.6C572.5 622.8 574.1 616.9 575.7 614C577.3 611.2 579.4 609 581.4 607.5C583.4 606 585.9 604.9 587.6 605C589.4 605.1 591.5 606.9 592 608.1C592.4 609.4 590.7 611.8 590.4 612.5" fill="none" stroke="#96918d" stroke-width="3.2"/>
<path d="M504.4 617.4C500.1 613.8 504.6 604.3 505.9 598.5C507.2 592.8 509.4 587.7 512.1 583C514.8 578.4 519 574.2 522.2 570.6C525.4 567 528.4 563.4 531.5 561.3C534.6 559.3 535.5 559 540.8 558.2C546.1 557.4 558.1 555.1 563.3 556.7C568.5 558.2 569.6 563.6 571.8 567.5C574 571.4 575.4 576 576.5 579.9C577.6 583.8 578.7 587.2 578.3 590.8C578 594.4 577.1 598.7 574.5 601.6C571.8 604.5 565 606.1 562.5 608.1C560.1 610.2 559.8 611.4 559.7 614C559.7 616.6 566.8 622.6 562.1 623.6C557.4 624.7 541.1 621.6 531.5 620.5C521.9 619.5 508.6 621.1 504.4 617.4Z" fill="#fff" stroke="#fff" stroke-width="3.2"/>
<path d="M495.9 583.3C495.5 580.9 496.9 574.5 498.2 570.6C499.5 566.7 500.6 562.6 503.6 559.8C506.6 556.9 511.4 554.9 516 553.6C520.7 552.3 527.8 551.2 531.5 552C535.2 552.8 538 556.1 538 558.2C538 560.3 534.1 563.4 531.5 564.7C528.9 566.1 524.8 564.8 522.2 566.3C519.6 567.8 517.8 570.9 516 573.7C514.2 576.6 512.6 581.2 511.4 583.3C510.1 585.5 510.1 586.1 508.3 586.4C506.4 586.8 502.6 585.9 500.5 585.3C498.4 584.8 496.2 585.8 495.9 583.3Z" fill="#fff" stroke="#fff" stroke-width="3.2"/>
<path d="M529.2 532.9C529.7 531.3 534.6 530 536.2 528C537.7 526 536.2 522.6 538.5 521C540.8 519.5 546.9 518.4 550.1 518.7C553.3 518.9 556.3 519.8 557.9 522.6C559.5 525.3 560.2 531.3 559.7 535C559.2 538.6 556.9 541.9 554.8 544.3C552.6 546.6 549.9 548.4 547 549.2C544.2 550.1 540.3 550.3 537.7 549.2C535.1 548.1 532.2 544.6 531.5 542.7C530.8 540.9 533.8 539.7 533.4 538.1C533 536.4 528.7 534.6 529.2 532.9Z" fill="#fff" stroke="#fff" stroke-width="3.2"/>
<path d="M531.5 518.2C531.8 516.4 535.9 512.8 537.7 510.2C539.5 507.5 540.3 504.3 542.4 502.4C544.4 500.5 547.5 499.1 550.1 499C552.7 498.9 555.8 499.8 557.9 501.6C559.9 503.5 560.2 508.6 562.5 510.2C564.8 511.7 569.2 509.9 571.8 510.9C574.4 512 576.7 514.2 578 516.4C579.4 518.6 578.5 522.2 579.9 524.1C581.2 526 584.9 526.3 586.1 528C587.2 529.7 587.7 532.7 586.9 534.2C586 535.7 583.1 537.2 581.1 536.8C579.1 536.4 577.5 533.7 574.9 531.9C572.3 530 569 527.7 565.6 525.7C562.3 523.6 558.4 520.5 554.8 519.5C551.1 518.4 547 519.1 543.9 519.5C540.8 519.8 538.2 521.5 536.2 521.3C534.1 521.1 531.3 520.1 531.5 518.2Z" fill="#fff" stroke="#fff" stroke-width="3.2"/>
<path d="M492 597.3C492.4 595.2 493.7 591 495.9 589.2C498 587.5 502.6 586.4 505.2 586.9C507.7 587.4 510.1 590.1 510.9 592.3C511.7 594.6 511.8 598.5 510.1 600.4C508.4 602.2 503.3 603.2 500.5 603.5C497.7 603.7 494.9 603 493.5 601.9C492.1 600.9 491.6 599.4 492 597.3Z" fill="#fff" stroke="#fff" stroke-width="3.2"/>
<path d="M523.8 608.1C524.1 606.4 524.5 603.1 526.9 601.6C529.2 600.2 534.8 598.8 537.7 599.3C540.6 599.8 543.4 602.5 544.2 604.7C545.1 607 544.8 611.2 542.7 612.8C540.6 614.4 534.5 614.5 531.5 614.3C528.5 614.2 525.8 613 524.5 612C523.2 611 523.4 609.9 523.8 608.1Z" fill="#fff" stroke="#fff" stroke-width="3.2"/>
<path d="M519.4 569.4C521.3 567.6 525.2 565.4 525.6 566.3C526.1 567.1 523.8 571.7 522.2 574.5C520.6 577.3 517.6 580.3 516 583C514.4 585.7 513.5 590.5 512.6 590.8C511.7 591.1 510.3 587.2 510.6 584.9C510.9 582.6 513 579.4 514.5 576.8C515.9 574.2 517.6 571.1 519.4 569.4Z" fill="#d8defd"/>
<path d="M504.4 617.4C500.1 613.8 504.6 604.3 505.9 598.5C507.2 592.8 509.4 587.7 512.1 583C514.8 578.4 519 574.2 522.2 570.6C525.4 567 528.4 563.4 531.5 561.3C534.6 559.3 535.5 559 540.8 558.2C546.1 557.4 558.1 555.1 563.3 556.7C568.5 558.2 569.6 563.6 571.8 567.5C574 571.4 575.4 576 576.5 579.9C577.6 583.8 578.7 587.2 578.3 590.8C578 594.4 577.1 598.7 574.5 601.6C571.8 604.5 565 606.1 562.5 608.1C560.1 610.2 559.8 611.4 559.7 614C559.7 616.6 566.8 622.6 562.1 623.6C557.4 624.7 541.1 621.6 531.5 620.5C521.9 619.5 508.6 621.1 504.4 617.4Z" fill="#ba7b5c" stroke="#2b2b2b" stroke-width="0.8"/>
<path d="M495.9 583.3C495.5 580.9 496.9 574.5 498.2 570.6C499.5 566.7 500.6 562.6 503.6 559.8C506.6 556.9 511.4 554.9 516 553.6C520.7 552.3 527.8 551.2 531.5 552C535.2 552.8 538 556.1 538 558.2C538 560.3 534.1 563.4 531.5 564.7C528.9 566.1 524.8 564.8 522.2 566.3C519.6 567.8 517.8 570.9 516 573.7C514.2 576.6 512.6 581.2 511.4 583.3C510.1 585.5 510.1 586.1 508.3 586.4C506.4 586.8 502.6 585.9 500.5 585.3C498.4 584.8 496.2 585.8 495.9 583.3Z" fill="#ba7b5c" stroke="#2b2b2b" stroke-width="0.8"/>
<path d="M495.5 582.2L509 583.8L508.3 588L495.5 586.1Z" fill="#9a6045" stroke="#5c3a2a" stroke-width="0.6"/>
<path d="M543.9 605.8C546 603.4 554.3 599.2 559.4 598.5C564.5 597.8 573.9 600 574.5 601.6C575 603.2 567.1 606.3 562.5 608.1C557.9 610 550.1 613.2 547 612.8C543.9 612.4 541.8 608.2 543.9 605.8Z" fill="#ba7b5c" stroke="#2b2b2b" stroke-width="0.8"/>
<path d="M543.1 605.5L547.8 604L550.1 612.5L545.2 613.7Z" fill="#9a6045" stroke="#5c3a2a" stroke-width="0.6"/>
<path d="M543.9 555.1C545.5 553.3 553.7 549.9 556.3 550.5C559 551 561.3 556.4 559.7 558.2C558.2 560.1 549.7 562.1 547 561.6C544.4 561.1 542.4 557 543.9 555.1Z" fill="#fce4d2" stroke="#2b2b2b" stroke-width="0.8"/>
<path d="M540 558.2C540.9 557.6 544.3 562.4 547 562.9C549.7 563.4 553.6 562.4 556.3 561.3C559 560.3 561.8 556.4 563.3 556.7C564.8 556.9 565.8 560.9 565.2 562.9C564.5 564.9 561.9 567.4 559.4 568.6C556.9 569.8 553.1 570.5 550.1 570.2C547.1 569.8 543.3 568.3 541.6 566.3C539.9 564.3 539.1 558.8 540 558.2Z" fill="#9a6045" stroke="#5c3a2a" stroke-width="0.6"/>
<path d="M556.3 523.3C557.6 522.3 562.5 525 565.6 527.2C568.8 529.4 573.8 533.7 575.2 536.5C576.7 539.4 575.4 541.9 574.5 544.3C573.5 546.6 571 549.4 569.5 550.8C568 552.1 567.3 553.4 565.6 552.3C563.9 551.2 560.7 547.4 559.4 544.3C558.1 541.1 558.4 536.9 557.9 533.4C557.4 529.9 555 524.4 556.3 523.3Z" fill="#7a5849" stroke="#2b2b2b" stroke-width="0.8"/>
<path d="M529.2 532.9C529.7 531.3 534.6 530 536.2 528C537.7 526 536.2 522.6 538.5 521C540.8 519.5 546.9 518.4 550.1 518.7C553.3 518.9 556.3 519.8 557.9 522.6C559.5 525.3 560.2 531.3 559.7 535C559.2 538.6 556.9 541.9 554.8 544.3C552.6 546.6 549.9 548.4 547 549.2C544.2 550.1 540.3 550.3 537.7 549.2C535.1 548.1 532.2 544.6 531.5 542.7C530.8 540.9 533.8 539.7 533.4 538.1C533 536.4 528.7 534.6 529.2 532.9Z" fill="#fce4d2" stroke="#2b2b2b" stroke-width="0.8"/>
<path d="M540 539.9C540 538.9 543.1 536.8 544.7 536.8C546.2 536.8 549.3 538.9 549.3 539.9C549.3 541 546.2 543 544.7 543C543.1 543 540 541 540 539.9Z" fill="#f6b1a6"/>
<path d="M559.7 539.9a3.6 3.6 0 1 0 7.2 0a3.6 3.6 0 1 0 -7.2 0Z" fill="#fce4d2" stroke="#2b2b2b" stroke-width="0.8"/>
<path d="M531.5 551.6C531 550.3 533.8 550.3 534.6 548.9C535.4 547.5 535.1 543.7 536.2 543C537.2 542.3 538.5 544.9 540.8 544.6C543.1 544.3 547.5 542.8 550.1 541.2C552.7 539.6 554.8 535 556.3 535C557.8 535 558.9 538.8 559 541.2C559 543.5 558.6 547.1 556.6 549.2C554.6 551.3 550.2 552.7 547 553.9C543.9 555 540.3 556.6 537.7 556.2C535.1 555.8 532 552.8 531.5 551.6Z" fill="#6c4a3e" stroke="#2b2b2b" stroke-width="0.8"/>
<path d="M530.3 538.1C530.9 538.3 533.1 539.4 534.3 539.3C535.5 539.3 536.9 538 537.4 537.8" fill="none" stroke="#5a3d33" stroke-width="1.6"/>
<path d="M541.6 526.9L542.7 529.5" fill="none" stroke="#2b2b2b" stroke-width="0.9"/>
<path d="M531.5 518.2C531.8 516.4 535.9 512.8 537.7 510.2C539.5 507.5 540.3 504.3 542.4 502.4C544.4 500.5 547.5 499.1 550.1 499C552.7 498.9 555.8 499.8 557.9 501.6C559.9 503.5 560.2 508.6 562.5 510.2C564.8 511.7 569.2 509.9 571.8 510.9C574.4 512 576.7 514.2 578 516.4C579.4 518.6 578.5 522.2 579.9 524.1C581.2 526 584.9 526.3 586.1 528C587.2 529.7 587.7 532.7 586.9 534.2C586 535.7 583.1 537.2 581.1 536.8C579.1 536.4 577.5 533.7 574.9 531.9C572.3 530 569 527.7 565.6 525.7C562.3 523.6 558.4 520.5 554.8 519.5C551.1 518.4 547 519.1 543.9 519.5C540.8 519.8 538.2 521.5 536.2 521.3C534.1 521.1 531.3 520.1 531.5 518.2Z" fill="#fff" stroke="#2b2b2b" stroke-width="0.8"/>
<path d="M531.2 518.8C532 517.5 537.1 513.8 539.3 513.3C541.4 512.7 543.7 514.4 544.2 515.6C544.8 516.8 544.3 519.6 542.7 520.5C541.1 521.5 536.5 521.6 534.6 521.3C532.7 521 530.4 520.2 531.2 518.8Z" fill="#1d1d1f" stroke="#2b2b2b" stroke-width="0.8"/>
<path d="M542.7 518.2C544.7 518.5 550.9 518.5 554.8 519.9C558.6 521.3 562 524 565.6 526.6C569.2 529.1 574.7 533.8 576.5 535.3" fill="none" stroke="#1d1d1f" stroke-width="1.8"/>
<path d="M542 508.3a1.6 1.6 0 1 0 3.2 0a1.6 1.6 0 1 0 -3.2 0Z" fill="#888" stroke="#2b2b2b" stroke-width="0.8"/>
<path d="M492 597.3C492.4 595.2 493.7 591 495.9 589.2C498 587.5 502.6 586.4 505.2 586.9C507.7 587.4 510.1 590.1 510.9 592.3C511.7 594.6 511.8 598.5 510.1 600.4C508.4 602.2 503.3 603.2 500.5 603.5C497.7 603.7 494.9 603 493.5 601.9C492.1 600.9 491.6 599.4 492 597.3Z" fill="#fce4d2" stroke="#2b2b2b" stroke-width="0.8"/>
<path d="M523.8 608.1C524.1 606.4 524.5 603.1 526.9 601.6C529.2 600.2 534.8 598.8 537.7 599.3C540.6 599.8 543.4 602.5 544.2 604.7C545.1 607 544.8 611.2 542.7 612.8C540.6 614.4 534.5 614.5 531.5 614.3C528.5 614.2 525.8 613 524.5 612C523.2 611 523.4 609.9 523.8 608.1Z" fill="#fce4d2" stroke="#2b2b2b" stroke-width="0.8"/>
<path d="M509.8 600.4C511.1 600.7 514.9 601.6 517.6 602.4C520.2 603.2 524.3 604.6 525.6 605" fill="none" stroke="#3b3836" stroke-width="3.8"/>
<path d="M509.8 600.4C511.1 600.7 514.9 601.6 517.6 602.4C520.2 603.2 524.3 604.6 525.6 605" fill="none" stroke="#8d8a86" stroke-width="2.3"/>
<path d="M541.1 612.8C541.6 613.5 543.2 615.5 543.9 617.1C544.6 618.8 545.2 621.7 545.5 622.6" fill="none" stroke="#3b3836" stroke-width="3.8"/>
<path d="M541.1 612.8C541.6 613.5 543.2 615.5 543.9 617.1C544.6 618.8 545.2 621.7 545.5 622.6" fill="none" stroke="#8d8a86" stroke-width="2.3"/>
<path d="M649 520L652.8 531.6" fill="none" stroke="#fff" stroke-width="5"/>
<path d="M645.9 518.1a2.4 2.4 0 1 0 4.8 0a2.4 2.4 0 1 0 -4.8 0Z" fill="#fff" stroke="#fff" stroke-width="3.2"/>
<path d="M658 584.9C657.8 581.9 659.3 579.9 660.5 578.4C661.8 576.9 663.7 575.7 665.7 575.9C667.6 576.1 670.2 577.6 672.1 579.7C674 581.9 674.4 586.8 677.2 588.7C680 590.6 684.7 591.1 688.8 591.3C692.8 591.5 698.1 591.1 701.6 590C705.1 588.9 708 584.4 710 584.9C711.9 585.3 713.1 589.8 713.4 592.6C713.8 595.3 713.3 598.9 712.1 601.5C711 604.2 709.1 606.9 706.8 608.2C704.4 609.5 700.3 609.9 697.8 609.5C695.2 609.1 692.8 607.6 691.3 605.7C689.9 603.7 690.1 599.2 688.8 597.7C687.5 596.2 686 596.1 683.6 596.4C681.3 596.7 677.7 598.5 674.7 599.6C671.7 600.7 667.8 603.6 665.7 603.1C663.5 602.6 663.1 599.5 661.8 596.4C660.5 593.4 658.2 587.9 658 584.9Z" fill="#fff" stroke="#fff" stroke-width="3.2"/>
<path d="M657.1 608.2C656.2 607.2 658.2 605.1 660.5 604.1C662.8 603.1 667.2 602.8 670.8 602.2C674.4 601.5 679.6 599.9 682.4 600.3C685.1 600.6 686.6 602.7 687.1 604.1C687.6 605.5 687.3 607.9 685.2 608.9C683.1 609.8 677.9 609.4 674.7 609.6C671.4 609.8 668.6 610.4 665.7 610.1C662.7 609.9 657.9 609.2 657.1 608.2Z" fill="#fff" stroke="#fff" stroke-width="3.2"/>
<path d="M711.9 592.6C712.8 591.3 716.3 592.6 717.3 593.8C718.3 595.1 718.6 597.9 717.9 600.3C717.3 602.7 715.1 606.7 713.4 608.2C711.8 609.8 708.4 610.6 708 609.5C707.7 608.4 710.9 604.4 711.5 601.5C712.1 598.7 710.9 593.8 711.9 592.6Z" fill="#fff" stroke="#fff" stroke-width="3.2"/>
<path d="M655.7 545.7C656.2 544.1 659.5 542.6 661.2 543.5C662.9 544.5 665.8 549 665.9 551.5C666.1 553.9 663.4 557.9 662.1 558.2C660.8 558.4 659 555.1 658 553C656.9 550.9 655.1 547.3 655.7 545.7Z" fill="#fff" stroke="#fff" stroke-width="3.2"/>
<path d="M670.8 583.6C670 580.8 671.2 576.1 672.1 572C672.9 568 674.4 563 675.9 559.2C677.4 555.3 679.6 551.5 681.1 548.9C682.6 546.3 682.6 542.9 684.9 543.8C687.3 544.6 692 554.1 695.2 554.1C698.4 554.1 701.4 545.3 704.2 543.8C707 542.3 710.1 543.6 711.9 545.1C713.6 546.6 714.5 550 714.7 552.8C715 555.5 714.1 558.5 713.4 561.8C712.8 565 711.4 568.1 710.9 572C710.3 575.9 711.8 582.1 710.2 585.1C708.7 588.2 705.2 589.2 701.6 590.3C698 591.3 692.8 591.7 688.8 591.5C684.7 591.3 680.2 590.3 677.2 589C674.2 587.6 671.7 586.4 670.8 583.6Z" fill="#fff" stroke="#fff" stroke-width="3.2"/>
<path d="M660.3 559.2C660.1 556.8 663.3 553 664.4 551.5C665.5 549.9 664.8 550.8 667 549.9C669.1 549.1 674.4 547.3 677.2 546.3C680.1 545.4 683.7 542.7 683.9 544.4C684.1 546.1 680.5 553 678.5 556.6C676.5 560.2 674.2 564.3 672.1 565.9C670 567.4 667.6 567 665.7 565.9C663.7 564.7 660.5 561.6 660.3 559.2Z" fill="#fff" stroke="#fff" stroke-width="3.2"/>
<path d="M704.2 543.8C704.6 541.8 709.9 542.9 711.9 544.8C713.9 546.7 714.7 551.4 716 555.3C717.3 559.2 720.3 564.5 719.8 568.2C719.4 571.9 715.4 577.2 713.4 577.4C711.5 577.7 708.7 573.2 708 569.7C707.4 566.2 710 560.9 709.3 556.6C708.7 552.3 703.8 545.7 704.2 543.8Z" fill="#fff" stroke="#fff" stroke-width="3.2"/>
<path d="M716.8 571C717.4 570 719.5 569.8 722.2 569.5C724.8 569.1 730.2 568.2 732.4 568.8C734.6 569.5 735.7 571.6 735.3 573.3C734.8 575.1 731.8 578.7 729.9 579.3C727.9 580 725.4 578.1 723.4 577.4C721.5 576.7 719.4 576.3 718.3 575.2C717.2 574.2 716.1 572 716.8 571Z" fill="#fff" stroke="#fff" stroke-width="3.2"/>
<path d="M648.7 534.8C649.2 533.5 650.7 531.8 652.2 531.6C653.7 531.4 656.3 532.3 658 533.5C659.6 534.7 661.8 537 662.1 538.6C662.3 540.3 661.1 542.7 659.5 543.4C658 544.1 654.5 543.4 652.8 542.8C651.1 542.1 650.1 540.6 649.4 539.3C648.7 538 648.3 536.1 648.7 534.8Z" fill="#fff" stroke="#fff" stroke-width="3.2"/>
<path d="M680.4 525.8C680.1 523.9 681 522.8 682.4 522C683.8 521.1 687.3 521.5 688.8 520.7C690.3 519.8 689.4 517.7 691.3 516.8C693.3 516 697.3 515.3 700.3 515.5C703.3 515.8 707.4 516.4 709.3 518.1C711.3 519.8 712 523.2 712.1 525.8C712.3 528.4 711.5 531.1 710.2 533.5C708.9 535.9 706.5 538.8 704.2 540.2C701.9 541.6 699.1 542.2 696.5 542.1C693.9 542 690.8 541 688.8 539.5C686.7 538.1 685.7 535.8 684.3 533.5C682.9 531.2 680.8 527.7 680.4 525.8Z" fill="#fff" stroke="#fff" stroke-width="3.2"/>
<path d="M673.4 515.5C673.8 512.7 675.1 509.3 677.2 507.2C679.4 505.1 682.8 503.6 686.2 502.7C689.6 501.8 693.9 501.3 697.8 501.8C701.6 502.3 706.1 504.1 709.3 505.9C712.6 507.8 716.2 510.8 717.3 513C718.4 515.2 717.3 518.4 716 519C714.7 519.6 711.7 517.6 709.3 516.8C706.9 516 704.2 514.5 701.6 514.3C699.1 514 695.8 514.5 693.9 515.5C692 516.6 691.3 518.7 690.1 520.7C688.8 522.6 687.5 524.7 686.5 527.1C685.4 529.5 685.2 533.9 683.9 535.1C682.6 536.2 680.1 535.5 678.5 533.8C677 532 675.5 527.6 674.7 524.5C673.8 521.5 672.9 518.4 673.4 515.5Z" fill="#fff" stroke="#fff" stroke-width="3.2"/>
<path d="M649 520L652.8 531.6" fill="none" stroke="#777" stroke-width="1.8"/>
<path d="M649 520L652.8 531.6" fill="none" stroke="#fff" stroke-width="0.9"/>
<path d="M645.9 518.1a2.4 2.4 0 1 0 4.8 0a2.4 2.4 0 1 0 -4.8 0Z" fill="#fff" stroke="#777" stroke-width="0.7"/>
<path d="M658 584.9C657.8 581.9 659.3 579.9 660.5 578.4C661.8 576.9 663.7 575.7 665.7 575.9C667.6 576.1 670.2 577.6 672.1 579.7C674 581.9 674.4 586.8 677.2 588.7C680 590.6 684.7 591.1 688.8 591.3C692.8 591.5 698.1 591.1 701.6 590C705.1 588.9 708 584.4 710 584.9C711.9 585.3 713.1 589.8 713.4 592.6C713.8 595.3 713.3 598.9 712.1 601.5C711 604.2 709.1 606.9 706.8 608.2C704.4 609.5 700.3 609.9 697.8 609.5C695.2 609.1 692.8 607.6 691.3 605.7C689.9 603.7 690.1 599.2 688.8 597.7C687.5 596.2 686 596.1 683.6 596.4C681.3 596.7 677.7 598.5 674.7 599.6C671.7 600.7 667.8 603.6 665.7 603.1C663.5 602.6 663.1 599.5 661.8 596.4C660.5 593.4 658.2 587.9 658 584.9Z" fill="#7b9bd9" stroke="#2b2b2b" stroke-width="0.8"/>
<path d="M657.1 608.2C656.2 607.2 658.2 605.1 660.5 604.1C662.8 603.1 667.2 602.8 670.8 602.2C674.4 601.5 679.6 599.9 682.4 600.3C685.1 600.6 686.6 602.7 687.1 604.1C687.6 605.5 687.3 607.9 685.2 608.9C683.1 609.8 677.9 609.4 674.7 609.6C671.4 609.8 668.6 610.4 665.7 610.1C662.7 609.9 657.9 609.2 657.1 608.2Z" fill="#222" stroke="#2b2b2b" stroke-width="0.8"/>
<path d="M711.9 592.6C712.8 591.3 716.3 592.6 717.3 593.8C718.3 595.1 718.6 597.9 717.9 600.3C717.3 602.7 715.1 606.7 713.4 608.2C711.8 609.8 708.4 610.6 708 609.5C707.7 608.4 710.9 604.4 711.5 601.5C712.1 598.7 710.9 593.8 711.9 592.6Z" fill="#222" stroke="#2b2b2b" stroke-width="0.8"/>
<path d="M655.7 545.7C656.2 544.1 659.5 542.6 661.2 543.5C662.9 544.5 665.8 549 665.9 551.5C666.1 553.9 663.4 557.9 662.1 558.2C660.8 558.4 659 555.1 658 553C656.9 550.9 655.1 547.3 655.7 545.7Z" fill="#d2a27e" stroke="#2b2b2b" stroke-width="0.8"/>
<path d="M670.8 583.6C670 580.8 671.2 576.1 672.1 572C672.9 568 674.4 563 675.9 559.2C677.4 555.3 679.6 551.5 681.1 548.9C682.6 546.3 682.6 542.9 684.9 543.8C687.3 544.6 692 554.1 695.2 554.1C698.4 554.1 701.4 545.3 704.2 543.8C707 542.3 710.1 543.6 711.9 545.1C713.6 546.6 714.5 550 714.7 552.8C715 555.5 714.1 558.5 713.4 561.8C712.8 565 711.4 568.1 710.9 572C710.3 575.9 711.8 582.1 710.2 585.1C708.7 588.2 705.2 589.2 701.6 590.3C698 591.3 692.8 591.7 688.8 591.5C684.7 591.3 680.2 590.3 677.2 589C674.2 587.6 671.7 586.4 670.8 583.6Z" fill="#b5d3ef" stroke="#2b2b2b" stroke-width="0.8"/>
<path d="M660.3 559.2C660.1 556.8 663.3 553 664.4 551.5C665.5 549.9 664.8 550.8 667 549.9C669.1 549.1 674.4 547.3 677.2 546.3C680.1 545.4 683.7 542.7 683.9 544.4C684.1 546.1 680.5 553 678.5 556.6C676.5 560.2 674.2 564.3 672.1 565.9C670 567.4 667.6 567 665.7 565.9C663.7 564.7 660.5 561.6 660.3 559.2Z" fill="#b5d3ef" stroke="#2b2b2b" stroke-width="0.8"/>
<path d="M704.2 543.8C704.6 541.8 709.9 542.9 711.9 544.8C713.9 546.7 714.7 551.4 716 555.3C717.3 559.2 720.3 564.5 719.8 568.2C719.4 571.9 715.4 577.2 713.4 577.4C711.5 577.7 708.7 573.2 708 569.7C707.4 566.2 710 560.9 709.3 556.6C708.7 552.3 703.8 545.7 704.2 543.8Z" fill="#b5d3ef" stroke="#2b2b2b" stroke-width="0.8"/>
<path d="M716.8 571C717.4 570 719.5 569.8 722.2 569.5C724.8 569.1 730.2 568.2 732.4 568.8C734.6 569.5 735.7 571.6 735.3 573.3C734.8 575.1 731.8 578.7 729.9 579.3C727.9 580 725.4 578.1 723.4 577.4C721.5 576.7 719.4 576.3 718.3 575.2C717.2 574.2 716.1 572 716.8 571Z" fill="#d2a27e" stroke="#2b2b2b" stroke-width="0.8"/>
<path d="M648.7 534.8C649.2 533.5 650.7 531.8 652.2 531.6C653.7 531.4 656.3 532.3 658 533.5C659.6 534.7 661.8 537 662.1 538.6C662.3 540.3 661.1 542.7 659.5 543.4C658 544.1 654.5 543.4 652.8 542.8C651.1 542.1 650.1 540.6 649.4 539.3C648.7 538 648.3 536.1 648.7 534.8Z" fill="#d2a27e" stroke="#2b2b2b" stroke-width="0.8"/>
<path d="M650.9 531.2C650.8 528.9 652.9 528.4 654.1 530.3C655.3 532.2 657.9 540.2 658 542.5C658.1 544.8 655.9 545.9 654.8 544C653.6 542.2 651 533.5 650.9 531.2Z" fill="#2a2a2a" stroke="#2b2b2b" stroke-width="0.8"/>
<path d="M683.6 544.7C683.6 542.7 685.6 540.3 687.5 539.9C689.4 539.6 692.6 542.4 695.2 542.8C697.8 543.1 701.4 541.3 702.9 541.9C704.4 542.5 705.7 544.3 704.4 546.3C703.2 548.4 698 553.4 695.2 554.3C692.4 555.2 689.4 553.3 687.5 551.7C685.6 550.1 683.6 546.6 683.6 544.7Z" fill="#cfe3f6" stroke="#7fa3cf" stroke-width="0.6"/>
<path d="M688.1 540.2C688.9 539.7 692.8 542.5 695.2 542.8C697.6 543 701.8 540.9 702.6 541.5C703.5 542.1 701.6 545.2 700.3 546.3C699.1 547.5 696.8 548.4 695.2 548.3C693.6 548.2 691.9 547.1 690.7 545.7C689.5 544.4 687.4 540.7 688.1 540.2Z" fill="#d2a27e" stroke="#2b2b2b" stroke-width="0.8"/>
<path d="M680.4 525.8C680.1 523.9 681 522.8 682.4 522C683.8 521.1 687.3 521.5 688.8 520.7C690.3 519.8 689.4 517.7 691.3 516.8C693.3 516 697.3 515.3 700.3 515.5C703.3 515.8 707.4 516.4 709.3 518.1C711.3 519.8 712 523.2 712.1 525.8C712.3 528.4 711.5 531.1 710.2 533.5C708.9 535.9 706.5 538.8 704.2 540.2C701.9 541.6 699.1 542.2 696.5 542.1C693.9 542 690.8 541 688.8 539.5C686.7 538.1 685.7 535.8 684.3 533.5C682.9 531.2 680.8 527.7 680.4 525.8Z" fill="#d2a27e" stroke="#2b2b2b" stroke-width="0.8"/>
<path d="M673.4 515.5C673.8 512.7 675.1 509.3 677.2 507.2C679.4 505.1 682.8 503.6 686.2 502.7C689.6 501.8 693.9 501.3 697.8 501.8C701.6 502.3 706.1 504.1 709.3 505.9C712.6 507.8 716.2 510.8 717.3 513C718.4 515.2 717.3 518.4 716 519C714.7 519.6 711.7 517.6 709.3 516.8C706.9 516 704.2 514.5 701.6 514.3C699.1 514 695.8 514.5 693.9 515.5C692 516.6 691.3 518.7 690.1 520.7C688.8 522.6 687.5 524.7 686.5 527.1C685.4 529.5 685.2 533.9 683.9 535.1C682.6 536.2 680.1 535.5 678.5 533.8C677 532 675.5 527.6 674.7 524.5C673.8 521.5 672.9 518.4 673.4 515.5Z" fill="#3a3a3c" stroke="#2b2b2b" stroke-width="0.8"/>
<path d="M680.1 528.6a2.6 2.6 0 1 0 5.2 0a2.6 2.6 0 1 0 -5.2 0Z" fill="#d2a27e" stroke="#2b2b2b" stroke-width="0.8"/>
<path d="M694.2 525.2a4.2 4.2 0 1 0 8.4 0a4.2 4.2 0 1 0 -8.4 0Z" fill="#fff" stroke="#333" stroke-width="0.7"/>
<path d="M706.4 526.5a3.6 3.6 0 1 0 7.2 0a3.6 3.6 0 1 0 -7.2 0Z" fill="#fff" stroke="#333" stroke-width="0.7"/>
<path d="M698.6 525.8a1.1 1.1 0 1 0 2.2 0a1.1 1.1 0 1 0 -2.2 0Z" fill="#222"/>
<path d="M709.3 527.1a1 1 0 1 0 2 0a1 1 0 1 0 -2 0Z" fill="#222"/>
<path d="M702.9 532.2C703.4 532.5 705.9 533.5 706.1 534.2C706.3 534.8 704.5 535.8 704.2 536.1" fill="none" stroke="#5a3a2a" stroke-width="0.8"/>
<path d="M696.5 537.4C697 537.7 698.6 539.2 699.7 539.3C700.8 539.4 702.4 538.2 702.9 538" fill="none" stroke="#5a3a2a" stroke-width="0.8"/>
<path d="M686.2 559.2L686.5 564.3" fill="none" stroke="#7fa3cf" stroke-width="0.8"/>
<path d="M677.2 589.4C678.1 590.5 680.4 595 682.4 596.4C684.3 597.8 687.7 597.5 688.8 597.7" fill="none" stroke="#5a78b8" stroke-width="0.8"/>
<path d="M719.1 622.9L722.1 619.8L738.5 618L759.7 618L761.7 625.1L761.1 630L720.9 630.6Z" fill="#fff" stroke="#fff" stroke-width="3.2"/>
<path d="M737.6 618C737.8 616.9 737.4 612.6 738.5 611.2C739.7 609.7 742.1 609.2 744.4 609.2C746.8 609.1 750.7 609.8 752.7 610.9C754.6 612.1 755.7 614.5 756.2 615.9C756.7 617.3 755.9 618.6 755.8 619.2" fill="none" stroke="#fff" stroke-width="5.6"/>
<path d="M762.1 625.1L790.3 623.9L796.5 620.4L796.5 627.6L762.1 630Z" fill="#fff" stroke="#fff" stroke-width="3.2"/>
<path d="M766.8 543.8C766.6 542.9 768.4 539.4 770.3 537.9C772.3 536.5 775.2 535.2 778.6 535C781.9 534.8 786.6 535.5 790.3 536.8C794.1 538 798 539.9 800.9 542.7C803.9 545.4 807 549.7 808.2 553.3C809.4 556.8 809 560.7 808.2 563.8C807.4 567 804.5 569.5 803.5 572.1C802.5 574.6 801.8 577.5 802.3 579.1C802.9 580.8 807.5 580.9 807.1 581.7C806.6 582.6 802.1 583.9 799.8 584.1C797.4 584.3 794.5 584.3 792.7 582.9C790.9 581.5 790.5 577.6 789.2 575.9C787.8 574.1 785.8 572.5 784.5 572.3C783.1 572.1 781.9 575.1 780.9 574.7C779.9 574.2 778.2 572.1 778.6 569.7C779 567.3 782.6 563.5 783.3 560.3C784 557.2 783.5 553.4 782.7 550.9C781.9 548.3 780.4 546.2 778.6 545C776.7 543.8 773.5 544 771.5 543.8C769.5 543.6 767 544.8 766.8 543.8Z" fill="#fff" stroke="#fff" stroke-width="3.2"/>
<path d="M759.7 600.3C760 596.4 760.9 594.1 762.1 590.9C763.3 587.8 765.4 584.3 766.8 581.5C768.2 578.8 768.4 575.2 770.3 574.4C772.3 573.7 775.6 576.4 778.6 576.8C781.5 577.2 786 575.2 788 576.8C790 578.4 789.9 582.7 790.6 586.2C791.2 589.7 790.6 594.1 791.8 598C792.9 601.9 795.9 607.3 797.4 609.8C798.9 612.2 800.5 611.1 800.6 612.7C800.6 614.3 799.3 617.5 797.6 619.4C795.9 621.3 793.9 623.2 790.3 624.1C786.8 625.1 780.9 624.9 776.2 625.1C771.5 625.3 764.7 627.1 762.1 625.3C759.4 623.5 760.7 618.6 760.3 614.5C759.9 610.3 759.4 604.3 759.7 600.3Z" fill="#fff" stroke="#fff" stroke-width="3.2"/>
<path d="M763.3 559.1C763.4 557 763.5 554.3 764.4 552.1C765.4 549.8 767.2 547 769.1 545.6C771.1 544.2 774 543.3 776.2 543.8C778.4 544.3 781 546 782.3 548.5C783.6 551.1 784.3 555.8 784.1 559.1C783.9 562.5 782.9 566.3 781.2 568.6C779.4 570.9 776.3 572.7 773.9 572.9C771.5 573.1 768.5 571.3 766.8 570C765.1 568.7 764.4 566.8 763.9 565C763.3 563.2 763.2 561.3 763.3 559.1Z" fill="#fff" stroke="#fff" stroke-width="3.2"/>
<path d="M749.1 595.6C750.7 593.9 752 593.7 753.8 594.5C755.7 595.2 759.5 598.3 760 600.3C760.4 602.3 757.8 605.2 756.4 606.5C755.1 607.7 753.5 606.7 751.7 607.6C750 608.6 747.5 612 745.8 612.3C744.1 612.7 741.7 611.2 741.5 610C741.3 608.8 743.2 607.4 744.4 605C745.7 602.7 747.6 597.4 749.1 595.6Z" fill="#fff" stroke="#fff" stroke-width="3.2"/>
<path d="M740.9 610C740.9 608.6 742.7 607 744.4 606.2C746.2 605.5 749.7 605 751.5 605.6C753.3 606.2 755 608.2 755.3 609.8C755.5 611.3 754.7 613.9 752.9 614.7C751.1 615.5 746.4 615.5 744.4 614.7C742.4 613.9 740.9 611.4 740.9 610Z" fill="#fff" stroke="#fff" stroke-width="3.2"/>
<path d="M749.1 587.6C749.7 586.5 751.3 585.3 753.8 584.4C756.4 583.6 760.7 583.4 764.4 582.7C768.2 582 772.4 581.1 776.2 580.3C780 579.5 784.8 577 787 578C789.2 579 790.4 584 789.4 586.2C788.4 588.4 784.7 590 780.9 591.2C777.2 592.3 771.3 592.5 766.8 592.9C762.3 593.3 756.6 593.8 753.8 593.5C751.1 593.2 751.1 592.1 750.3 591.2C749.5 590.2 748.5 588.7 749.1 587.6Z" fill="#fff" stroke="#fff" stroke-width="3.2"/>
<path d="M737.7 577C738.3 575.8 740.4 574.7 742.1 574.4C743.8 574.2 746.5 574.4 748 575.6C749.4 576.8 750.3 579.7 750.6 581.5C750.8 583.3 750.6 585.8 749.4 586.4C748.2 587.1 745.1 586.1 743.3 585.3C741.4 584.5 739.5 583.1 738.5 581.7C737.6 580.4 737.1 578.2 737.7 577Z" fill="#fff" stroke="#fff" stroke-width="3.2"/>
<path d="M740.3 570.3L742.7 575.9" fill="none" stroke="#fff" stroke-width="4.8"/>
<path d="M738.3 567.4L742.9 568L742.3 570.6L738.9 570Z" fill="#fff" stroke="#fff" stroke-width="3.2"/>
<path d="M719.1 622.9L722.1 619.8L738.5 618L759.7 618L761.7 625.1L761.1 630L720.9 630.6Z" fill="#4b3b3c" stroke="#2b2b2b" stroke-width="0.8"/>
<path d="M737.6 618C737.8 616.9 737.4 612.6 738.5 611.2C739.7 609.7 742.1 609.2 744.4 609.2C746.8 609.1 750.7 609.8 752.7 610.9C754.6 612.1 755.7 614.5 756.2 615.9C756.7 617.3 755.9 618.6 755.8 619.2" fill="none" stroke="#3a2d2e" stroke-width="2.4"/>
<path d="M737.4 620.9L750.3 620.1L750.9 623.3L738 624.1Z" fill="#bfc3ca" stroke="#555" stroke-width="0.5"/>
<path d="M762.1 625.1L790.3 623.9L796.5 620.4L796.5 627.6L762.1 630Z" fill="#a8bb90" stroke="#2b2b2b" stroke-width="0.8"/>
<path d="M766.8 543.8C766.6 542.9 768.4 539.4 770.3 537.9C772.3 536.5 775.2 535.2 778.6 535C781.9 534.8 786.6 535.5 790.3 536.8C794.1 538 798 539.9 800.9 542.7C803.9 545.4 807 549.7 808.2 553.3C809.4 556.8 809 560.7 808.2 563.8C807.4 567 804.5 569.5 803.5 572.1C802.5 574.6 801.8 577.5 802.3 579.1C802.9 580.8 807.5 580.9 807.1 581.7C806.6 582.6 802.1 583.9 799.8 584.1C797.4 584.3 794.5 584.3 792.7 582.9C790.9 581.5 790.5 577.6 789.2 575.9C787.8 574.1 785.8 572.5 784.5 572.3C783.1 572.1 781.9 575.1 780.9 574.7C779.9 574.2 778.2 572.1 778.6 569.7C779 567.3 782.6 563.5 783.3 560.3C784 557.2 783.5 553.4 782.7 550.9C781.9 548.3 780.4 546.2 778.6 545C776.7 543.8 773.5 544 771.5 543.8C769.5 543.6 767 544.8 766.8 543.8Z" fill="#f1e8cf" stroke="#2b2b2b" stroke-width="0.8"/>
<path d="M796.2 554.4C797 552 800.6 551.7 802.1 552.7C803.6 553.6 805 557.5 805.1 560.3C805.2 563.2 804 568.6 802.7 569.7C801.4 570.9 798.5 569.9 797.4 567.4C796.3 564.8 795.4 556.9 796.2 554.4Z" fill="#cfc4a0"/>
<path d="M759.7 600.3C760 596.4 760.9 594.1 762.1 590.9C763.3 587.8 765.4 584.3 766.8 581.5C768.2 578.8 768.4 575.2 770.3 574.4C772.3 573.7 775.6 576.4 778.6 576.8C781.5 577.2 786 575.2 788 576.8C790 578.4 789.9 582.7 790.6 586.2C791.2 589.7 790.6 594.1 791.8 598C792.9 601.9 795.9 607.3 797.4 609.8C798.9 612.2 800.5 611.1 800.6 612.7C800.6 614.3 799.3 617.5 797.6 619.4C795.9 621.3 793.9 623.2 790.3 624.1C786.8 625.1 780.9 624.9 776.2 625.1C771.5 625.3 764.7 627.1 762.1 625.3C759.4 623.5 760.7 618.6 760.3 614.5C759.9 610.3 759.4 604.3 759.7 600.3Z" fill="#ea8170" stroke="#2b2b2b" stroke-width="0.8"/>
<path d="M771.5 571.5C772.7 570.1 779.2 568.5 780.9 569.1C782.7 569.8 783.3 574.2 782.1 575.6C780.9 577 775.6 578.1 773.9 577.4C772.1 576.7 770.3 572.9 771.5 571.5Z" fill="#fce4d2" stroke="#2b2b2b" stroke-width="0.8"/>
<path d="M763.3 559.1C763.4 557 763.5 554.3 764.4 552.1C765.4 549.8 767.2 547 769.1 545.6C771.1 544.2 774 543.3 776.2 543.8C778.4 544.3 781 546 782.3 548.5C783.6 551.1 784.3 555.8 784.1 559.1C783.9 562.5 782.9 566.3 781.2 568.6C779.4 570.9 776.3 572.7 773.9 572.9C771.5 573.1 768.5 571.3 766.8 570C765.1 568.7 764.4 566.8 763.9 565C763.3 563.2 763.2 561.3 763.3 559.1Z" fill="#fce4d2" stroke="#2b2b2b" stroke-width="0.8"/>
<path d="M770.3 566.2C770.3 565.4 772.7 563.8 773.9 563.8C775 563.8 777.4 565.4 777.4 566.2C777.4 567 775 568.8 773.9 568.8C772.7 568.8 770.3 567 770.3 566.2Z" fill="#f6b1a6"/>
<path d="M767.4 553.8L770.3 553" fill="none" stroke="#2b2b2b" stroke-width="0.8"/>
<path d="M772.7 558.5L775 559.4" fill="none" stroke="#2b2b2b" stroke-width="0.8"/>
<path d="M765.6 565C766 565.4 767.1 566.9 768 567.4C768.9 567.8 770.4 567.6 770.9 567.6" fill="none" stroke="#b04a40" stroke-width="1"/>
<path d="M766.8 543.8C766.6 542.9 768.4 539.4 770.3 537.9C772.3 536.5 775.2 535.2 778.6 535C781.9 534.8 787.2 535.7 790.3 536.8C793.5 537.9 797.4 540.5 797.4 541.5C797.4 542.5 792.7 541.7 790.3 542.7C788 543.6 785.2 547 783.3 547.4C781.3 547.8 780.5 545.6 778.6 545C776.6 544.4 773.5 544 771.5 543.8C769.5 543.6 767 544.8 766.8 543.8Z" fill="#f1e8cf" stroke="#2b2b2b" stroke-width="0.8"/>
<path d="M749.1 595.6C750.7 593.9 752 593.7 753.8 594.5C755.7 595.2 759.5 598.3 760 600.3C760.4 602.3 757.8 605.2 756.4 606.5C755.1 607.7 753.5 606.7 751.7 607.6C750 608.6 747.5 612 745.8 612.3C744.1 612.7 741.7 611.2 741.5 610C741.3 608.8 743.2 607.4 744.4 605C745.7 602.7 747.6 597.4 749.1 595.6Z" fill="#ea8170" stroke="#2b2b2b" stroke-width="0.8"/>
<path d="M740.9 610C740.9 608.6 742.7 607 744.4 606.2C746.2 605.5 749.7 605 751.5 605.6C753.3 606.2 755 608.2 755.3 609.8C755.5 611.3 754.7 613.9 752.9 614.7C751.1 615.5 746.4 615.5 744.4 614.7C742.4 613.9 740.9 611.4 740.9 610Z" fill="#fce4d2" stroke="#2b2b2b" stroke-width="0.8"/>
<path d="M749.1 587.6C749.7 586.5 751.3 585.3 753.8 584.4C756.4 583.6 760.7 583.4 764.4 582.7C768.2 582 772.4 581.1 776.2 580.3C780 579.5 784.8 577 787 578C789.2 579 790.4 584 789.4 586.2C788.4 588.4 784.7 590 780.9 591.2C777.2 592.3 771.3 592.5 766.8 592.9C762.3 593.3 756.6 593.8 753.8 593.5C751.1 593.2 751.1 592.1 750.3 591.2C749.5 590.2 748.5 588.7 749.1 587.6Z" fill="#ea8170" stroke="#2b2b2b" stroke-width="0.8"/>
<path d="M737.7 577C738.3 575.8 740.4 574.7 742.1 574.4C743.8 574.2 746.5 574.4 748 575.6C749.4 576.8 750.3 579.7 750.6 581.5C750.8 583.3 750.6 585.8 749.4 586.4C748.2 587.1 745.1 586.1 743.3 585.3C741.4 584.5 739.5 583.1 738.5 581.7C737.6 580.4 737.1 578.2 737.7 577Z" fill="#fce4d2" stroke="#2b2b2b" stroke-width="0.8"/>
<path d="M740.3 570.3L742.7 575.9" fill="none" stroke="#666" stroke-width="1.6"/>
<path d="M738.3 567.4L742.9 568L742.3 570.6L738.9 570Z" fill="#c9ccd2" stroke="#555" stroke-width="0.5"/>
<path d="M866 609.3C866 606.8 867.4 603.3 868.3 602C869.2 600.7 869.7 599.4 871.4 601.3C873.1 603.2 878.9 610.8 878.4 613.4C877.8 616 870.4 617.6 868.3 616.9C866.3 616.2 866 611.7 866 609.3Z" fill="#fff" stroke="#fff" stroke-width="3.2"/>
<path d="M866.3 597.4C867 595.1 870.8 594.8 873.9 592.3C877 589.8 880.9 586 885 582.6C889.2 579.1 894.4 574.5 898.9 571.4C903.4 568.4 909.4 565.4 912.1 564.5C914.9 563.6 914.1 564.7 915.6 565.9C917.1 567 918.3 569.8 921.2 571.4C924 573.1 929.9 573.3 932.6 575.6C935.3 577.9 937.7 582.1 937.4 585.3C937.2 588.6 933.2 592.2 931.2 595.1C929.2 597.9 927.5 600.9 925.3 602.3C923.2 603.7 922.3 602.8 918.4 603.7C914.5 604.6 907.7 606.7 901.7 607.9C895.7 609 887.6 610.9 882.2 610.6C876.9 610.4 872.4 608.7 869.7 606.5C867.1 604.3 865.6 599.8 866.3 597.4Z" fill="#fff" stroke="#fff" stroke-width="3.2"/>
<path d="M929.2 589.8C929.2 588 929.5 585.9 932.3 585.3C935.1 584.8 942 587 946.2 586.7C950.4 586.5 954.5 583.5 957.3 584C960.1 584.4 963.2 587.6 963.2 589.5C963.2 591.4 960.6 594.1 957.3 595.4C954 596.6 947.6 596.6 943.4 596.7C939.2 596.9 934.7 597.2 932.3 596C929.9 594.9 929.2 591.6 929.2 589.8Z" fill="#fff" stroke="#fff" stroke-width="3.2"/>
<path d="M915.6 565.9C914.9 563.7 916.1 561.5 917 558.9C917.9 556.4 919.5 551.6 921.2 550.6C922.8 549.5 924 553.4 926.7 552.7C929.5 552 935.1 546.8 937.9 546.4C940.6 546.1 941.5 548.7 943.4 550.6C945.3 552.4 948.5 555 949.3 557.5C950 560.1 949.3 563.4 947.9 565.9C946.4 568.4 943.5 571.1 940.6 572.4C937.8 573.7 934.1 573.9 930.9 573.8C927.7 573.7 923.7 573 921.2 571.7C918.6 570.4 916.3 568 915.6 565.9Z" fill="#fff" stroke="#fff" stroke-width="3.2"/>
<path d="M908 547.8C907.7 544.5 909.5 540.9 911.4 538.1C913.4 535.3 917 532.9 919.8 531.1C922.6 529.3 925.5 528.2 928.1 527.4C930.8 526.5 933 525.4 935.8 526C938.5 526.6 941.9 528.6 944.8 531.1C947.7 533.6 951.3 537.4 953.4 540.9C955.6 544.3 957.1 548.7 957.6 552C958.1 555.2 957.4 558.2 956.2 560.3C955 562.4 951.6 565.2 950.4 564.8C949.2 564.3 950.1 559.9 949 557.5C947.8 555.2 945.3 552.4 943.4 550.6C941.6 548.7 939.7 546.5 937.9 546.4C936 546.3 934.1 548.7 932.3 549.9C930.4 551 928.6 553.2 926.7 553.4C924.9 553.5 922.7 549.6 921.2 550.6C919.6 551.6 918.7 558 917.3 559.2C915.9 560.4 914.4 559.7 912.8 557.8C911.3 555.9 908.2 551.1 908 547.8Z" fill="#fff" stroke="#fff" stroke-width="3.2"/>
<path d="M866 609.3C866 606.8 867.4 603.3 868.3 602C869.2 600.7 869.7 599.4 871.4 601.3C873.1 603.2 878.9 610.8 878.4 613.4C877.8 616 870.4 617.6 868.3 616.9C866.3 616.2 866 611.7 866 609.3Z" fill="#5b9be0" stroke="#2b2b2b" stroke-width="0.8"/>
<path d="M866.3 597.4C867 595.1 870.8 594.8 873.9 592.3C877 589.8 880.9 586 885 582.6C889.2 579.1 894.4 574.5 898.9 571.4C903.4 568.4 909.4 565.4 912.1 564.5C914.9 563.6 914.1 564.7 915.6 565.9C917.1 567 918.3 569.8 921.2 571.4C924 573.1 929.9 573.3 932.6 575.6C935.3 577.9 937.7 582.1 937.4 585.3C937.2 588.6 933.2 592.2 931.2 595.1C929.2 597.9 927.5 600.9 925.3 602.3C923.2 603.7 922.3 602.8 918.4 603.7C914.5 604.6 907.7 606.7 901.7 607.9C895.7 609 887.6 610.9 882.2 610.6C876.9 610.4 872.4 608.7 869.7 606.5C867.1 604.3 865.6 599.8 866.3 597.4Z" fill="#fff" stroke="#2b2b2b" stroke-width="0.8"/>
<path d="M876.7 597.9C879.7 596.1 885.7 595.1 890.6 595.1C895.5 595.1 901.2 596.7 905.9 597.9C910.5 599 919.1 600.4 918.4 602C917.7 603.6 907.7 606 901.7 607.3C895.7 608.7 887.1 610.4 882.2 610.1C877.4 609.8 873.4 607.5 872.5 605.5C871.6 603.5 873.7 599.6 876.7 597.9Z" fill="#f0f0f2"/>
<path d="M901.7 575.6C902.9 577.2 905.9 581.6 908.7 585.3C911.4 589 916.3 594.8 918.4 597.9C920.5 600.9 920.7 602.5 921.2 603.4" fill="none" stroke="#c4c4cc" stroke-width="0.8"/>
<path d="M929.2 589.8C929.2 588 929.5 585.9 932.3 585.3C935.1 584.8 942 587 946.2 586.7C950.4 586.5 954.5 583.5 957.3 584C960.1 584.4 963.2 587.6 963.2 589.5C963.2 591.4 960.6 594.1 957.3 595.4C954 596.6 947.6 596.6 943.4 596.7C939.2 596.9 934.7 597.2 932.3 596C929.9 594.9 929.2 591.6 929.2 589.8Z" fill="#fce4d2" stroke="#2b2b2b" stroke-width="0.8"/>
<path d="M915.6 565.9C914.9 563.7 916.1 561.5 917 558.9C917.9 556.4 919.5 551.6 921.2 550.6C922.8 549.5 924 553.4 926.7 552.7C929.5 552 935.1 546.8 937.9 546.4C940.6 546.1 941.5 548.7 943.4 550.6C945.3 552.4 948.5 555 949.3 557.5C950 560.1 949.3 563.4 947.9 565.9C946.4 568.4 943.5 571.1 940.6 572.4C937.8 573.7 934.1 573.9 930.9 573.8C927.7 573.7 923.7 573 921.2 571.7C918.6 570.4 916.3 568 915.6 565.9Z" fill="#fce4d2" stroke="#2b2b2b" stroke-width="0.8"/>
<path d="M920.8 563.8C920.8 562.5 923.3 560 924.6 560C925.9 560 928.5 562.5 928.5 563.8C928.5 565 925.9 567.5 924.6 567.5C923.3 567.5 920.8 565 920.8 563.8Z" fill="#f6b1a6"/>
<path d="M908 547.8C907.7 544.5 909.5 540.9 911.4 538.1C913.4 535.3 917 532.9 919.8 531.1C922.6 529.3 925.5 528.2 928.1 527.4C930.8 526.5 933 525.4 935.8 526C938.5 526.6 941.9 528.6 944.8 531.1C947.7 533.6 951.3 537.4 953.4 540.9C955.6 544.3 957.1 548.7 957.6 552C958.1 555.2 957.4 558.2 956.2 560.3C955 562.4 951.6 565.2 950.4 564.8C949.2 564.3 950.1 559.9 949 557.5C947.8 555.2 945.3 552.4 943.4 550.6C941.6 548.7 939.7 546.5 937.9 546.4C936 546.3 934.1 548.7 932.3 549.9C930.4 551 928.6 553.2 926.7 553.4C924.9 553.5 922.7 549.6 921.2 550.6C919.6 551.6 918.7 558 917.3 559.2C915.9 560.4 914.4 559.7 912.8 557.8C911.3 555.9 908.2 551.1 908 547.8Z" fill="#5e5e60" stroke="#2b2b2b" stroke-width="0.8"/>
<path d="M917.1 553.4a2.4 2.4 0 1 0 4.8 0a2.4 2.4 0 1 0 -4.8 0Z" fill="#fce4d2" stroke="#2b2b2b" stroke-width="0.8"/>
<path d="M930.2 560.3C930.7 560.1 932.1 558.9 933 558.9C933.9 559 935.3 560.3 935.8 560.6" fill="none" stroke="#2b2b2b" stroke-width="0.8"/>
<path d="M940.6 560.3C941.1 560.2 942.4 559.3 943.1 559.5C943.9 559.6 944.8 560.9 945.1 561.2" fill="none" stroke="#2b2b2b" stroke-width="0.8"/>
<path d="M926.7 568C927.5 568.4 929.7 570.2 931.6 570.3C933.5 570.5 936.3 569.7 937.9 568.9C939.4 568.2 940.2 566.4 940.6 565.9" fill="none" stroke="#2b2b2b" stroke-width="0.8"/>
<path d="M951.7 573.5a5.6 5.6 0 1 0 11.2 0a5.6 5.6 0 1 0 -11.2 0Z" fill="none" stroke="#fff" stroke-width="6.8"/>
<path d="M960.8 581.2C961.7 585.8 964.4 599.8 966.4 609C968.3 618.1 971.6 631.6 972.6 636.1" fill="none" stroke="#fff" stroke-width="8.4"/>
<path d="M943.4 633.3C944.6 634.3 946.7 637.9 950.4 639.6C954.1 641.2 960.8 643.3 965.7 643C970.5 642.8 975.4 640.8 979.6 638.2C983.7 635.5 987.9 630.8 990.7 627C993.5 623.3 995.3 617.8 996.2 615.9" fill="none" stroke="#fff" stroke-width="7.8"/>
<path d="M936.2 628.9L949 631.2L941.3 641Z" fill="#fff" stroke="#fff" stroke-width="3.6"/>
<path d="M987.2 617.3L998.3 606.9L1001.1 620.1Z" fill="#fff" stroke="#fff" stroke-width="3.6"/>
<path d="M951.7 573.5a5.6 5.6 0 1 0 11.2 0a5.6 5.6 0 1 0 -11.2 0Z" fill="none" stroke="#3b3b3d" stroke-width="4.2"/>
<path d="M960.8 581.2C961.7 585.8 964.4 599.8 966.4 609C968.3 618.1 971.6 631.6 972.6 636.1" fill="none" stroke="#3b3b3d" stroke-width="5.8"/>
<path d="M943.4 633.3C944.6 634.3 946.7 637.9 950.4 639.6C954.1 641.2 960.8 643.3 965.7 643C970.5 642.8 975.4 640.8 979.6 638.2C983.7 635.5 987.9 630.8 990.7 627C993.5 623.3 995.3 617.8 996.2 615.9" fill="none" stroke="#3b3b3d" stroke-width="5.2"/>
<path d="M936.2 628.9L949 631.2L941.3 641Z" fill="#3b3b3d" stroke="#3b3b3d" stroke-width="1"/>
<path d="M987.2 617.3L998.3 606.9L1001.1 620.1Z" fill="#3b3b3d" stroke="#3b3b3d" stroke-width="1"/>
<path d="M942.7 578.4C943.4 577.1 946.8 575.4 949 574.9C951.2 574.5 955 574.6 955.9 575.6C956.9 576.7 956 579.8 954.8 581.2C953.7 582.6 950.6 583.7 949 584C947.3 584.2 945.8 583.5 944.8 582.6C943.8 581.6 942 579.7 942.7 578.4Z" fill="#9a9896" stroke="#444" stroke-width="0.6"/>
<path d="M952.9 585.6C952.9 583.3 955.4 582.1 957.3 581.2C959.2 580.2 962.7 578.9 964.3 579.8C965.8 580.7 966.7 584.4 966.6 586.7C966.6 589.1 965.4 592.5 963.9 594C962.3 595.4 959.1 596.7 957.3 595.4C955.5 594 952.9 588 952.9 585.6Z" fill="#fff" stroke="#fff" stroke-width="2.2"/>
<path d="M952.9 600.9C953 599.5 954 596.9 955.9 595.8C957.8 594.7 961.9 594 964.3 594.4C966.6 594.7 969.2 596.3 970.1 597.9C971 599.4 970.8 602.4 969.4 603.7C968 605 963.9 605.7 961.5 605.8C959.1 605.9 956.7 605.2 955.2 604.4C953.8 603.6 952.8 602.3 952.9 600.9Z" fill="#fff" stroke="#fff" stroke-width="2.2"/>
<path d="M952.9 585.6C952.9 583.3 955.4 582.1 957.3 581.2C959.2 580.2 962.7 578.9 964.3 579.8C965.8 580.7 966.7 584.4 966.6 586.7C966.6 589.1 965.4 592.5 963.9 594C962.3 595.4 959.1 596.7 957.3 595.4C955.5 594 952.9 588 952.9 585.6Z" fill="#fce4d2" stroke="#2b2b2b" stroke-width="0.8"/>
<path d="M952.9 600.9C953 599.5 954 596.9 955.9 595.8C957.8 594.7 961.9 594 964.3 594.4C966.6 594.7 969.2 596.3 970.1 597.9C971 599.4 970.8 602.4 969.4 603.7C968 605 963.9 605.7 961.5 605.8C959.1 605.9 956.7 605.2 955.2 604.4C953.8 603.6 952.8 602.3 952.9 600.9Z" fill="#fce4d2" stroke="#2b2b2b" stroke-width="0.8"/>
<path d="M908 412C907.3 415 916.8 423.1 921 425.8C925.2 428.5 929.2 428 933 428.2C936.8 428.4 941.7 428.7 944 427C946.3 425.3 947.7 420.7 947 418.2C946.3 415.7 943.7 413.7 940 412C936.3 410.3 930.3 408 925 408C919.7 408 908.7 409 908 412Z" fill="#fff" stroke="#fff" stroke-width="2.6"/>
<path d="M897 375.3C897.5 373.3 900.4 372.2 901.8 371.8C903.2 371.4 903.8 371.1 905.3 373C906.8 374.9 909.2 379.8 910.6 383C912 386.2 914.7 390.9 913.5 392.4C912.3 393.9 906 393.4 903.5 392C901 390.6 899.9 386.8 898.8 384C897.7 381.2 896.5 377.3 897 375.3Z" fill="#fff" stroke="#fff" stroke-width="2.6"/>
<path d="M900.6 392.4C902.4 390.4 909.2 392.7 914 393.5C918.8 394.3 924.9 395 929.4 397C933.9 399 938.5 403.1 941.2 405.3C944 407.6 946.3 408.4 945.9 410.5C945.5 412.6 940.9 416.1 938.8 418.2C936.6 420.3 936 422.4 933 423C930 423.6 924.7 423 921 421.8C917.3 420.6 913.5 418.6 910.6 415.9C907.7 413.1 905.2 409.2 903.5 405.3C901.8 401.4 898.9 394.4 900.6 392.4Z" fill="#fff" stroke="#fff" stroke-width="2.6"/>
<path d="M943.5 410C944.6 407.8 947.9 407.6 950.6 407.6C953.4 407.6 957.6 408.4 960 410C962.4 411.6 964.3 414.4 964.7 417C965.1 419.6 964 423.5 962.4 425.3C960.8 427.1 957.7 427.4 955.3 427.6C952.9 427.8 950.1 427.7 948.2 426.5C946.3 425.3 944.8 423.4 944 420.6C943.2 417.9 942.4 412.2 943.5 410Z" fill="#fff" stroke="#fff" stroke-width="2.6"/>
<path d="M953.3 425.3L957.8 425.9L957.2 434.7L955.3 439L953.7 432.4Z" fill="#fff" stroke="#fff" stroke-width="2.6"/>
<path d="M921.8 426.5L925.3 440.6" fill="none" stroke="#6b6b73" stroke-width="1.8"/>
<path d="M928.2 428.2L929.4 440.6" fill="none" stroke="#6b6b73" stroke-width="1.8"/>
<path d="M919.5 441L935.5 442.4" fill="none" stroke="#55555e" stroke-width="2"/>
<path d="M908 412C907.3 415 916.8 423.1 921 425.8C925.2 428.5 929.2 428 933 428.2C936.8 428.4 941.7 428.7 944 427C946.3 425.3 947.7 420.7 947 418.2C946.3 415.7 943.7 413.7 940 412C936.3 410.3 930.3 408 925 408C919.7 408 908.7 409 908 412Z" fill="#d9d9e2" stroke="#3d3d48" stroke-width="0.6"/>
<path d="M897 375.3C897.5 373.3 900.4 372.2 901.8 371.8C903.2 371.4 903.8 371.1 905.3 373C906.8 374.9 909.2 379.8 910.6 383C912 386.2 914.7 390.9 913.5 392.4C912.3 393.9 906 393.4 903.5 392C901 390.6 899.9 386.8 898.8 384C897.7 381.2 896.5 377.3 897 375.3Z" fill="#8a8a9d" stroke="#3d3d48" stroke-width="0.7"/>
<path d="M900.6 392.4C902.4 390.4 909.2 392.7 914 393.5C918.8 394.3 924.9 395 929.4 397C933.9 399 938.5 403.1 941.2 405.3C944 407.6 946.3 408.4 945.9 410.5C945.5 412.6 940.9 416.1 938.8 418.2C936.6 420.3 936 422.4 933 423C930 423.6 924.7 423 921 421.8C917.3 420.6 913.5 418.6 910.6 415.9C907.7 413.1 905.2 409.2 903.5 405.3C901.8 401.4 898.9 394.4 900.6 392.4Z" fill="#8f8fa3" stroke="#3d3d48" stroke-width="0.7"/>
<path d="M903 396C904.7 395 910.8 396.8 915 398C919.2 399.2 924.3 401 928 403C931.7 405 936.2 407.5 937 410C937.8 412.5 935.5 416.7 933 418C930.5 419.3 925.7 419 922 418C918.3 417 913.8 414.3 911 412C908.2 409.7 906.3 406.7 905 404C903.7 401.3 901.3 397 903 396Z" fill="#7d7d93" stroke="#4a4a57" stroke-width="0.5"/>
<path d="M943.5 410C944.6 407.8 947.9 407.6 950.6 407.6C953.4 407.6 957.6 408.4 960 410C962.4 411.6 964.3 414.4 964.7 417C965.1 419.6 964 423.5 962.4 425.3C960.8 427.1 957.7 427.4 955.3 427.6C952.9 427.8 950.1 427.7 948.2 426.5C946.3 425.3 944.8 423.4 944 420.6C943.2 417.9 942.4 412.2 943.5 410Z" fill="#fff" stroke="#6a6a75" stroke-width="0.6"/>
<path d="M953.3 425.3L957.8 425.9L957.2 434.7L955.3 439L953.7 432.4Z" fill="#f2b867" stroke="#8a5a2a" stroke-width="0.5"/>
<path d="M953.5 422.5L957.5 423.2" fill="none" stroke="#333" stroke-width="0.7"/>
<path d="M910 445.4l5.6 -1.6l1.8 7.2l-5.6 1.6Z" fill="#dfe5f8" stroke="#555a6b" stroke-width="0.6"/>
<path d="M284 589C295.9 591 331.2 597.6 355.5 601C379.8 604.4 405.1 607 430 609.5C454.9 612 473.3 613.1 505 616C536.7 618.9 584.2 624.6 620 627C655.8 629.4 688.1 630.7 720 630.5C751.9 630.3 791.6 627.4 811.6 626C831.6 624.6 827.4 624.6 840 622C852.6 619.4 872.5 614.3 887 610.6C901.5 606.9 920.3 601.8 927 600C926.4 603.7 925.5 613.2 923.5 622C921.5 630.8 917.6 645.2 915 653C912.4 660.8 912.7 660.4 908 669C903.3 677.6 892.2 698 887 704.7C881.8 711.5 878.7 708.7 877 709.5C837.5 709.5 719 709.5 640 709.5C561 709.5 442.5 709.5 403 709.5C403 708.9 407.5 708.5 403 706C398.5 703.5 384.3 698.6 376 694.4C367.7 690.2 359.6 685.4 353 681C346.4 676.6 341.8 672.5 336.3 667.8C330.8 663.1 324.8 658 319.8 653C314.8 648 310.6 643.5 306.5 638C302.4 632.5 297.9 625.6 294.9 619.8C291.8 614 290 608.1 288.2 603C286.4 597.9 284.7 591.3 284 589Z" fill="#fff" stroke="#fff" stroke-width="2.5"/>
<path d="M322 653C323.7 652.5 328.2 650 332 650C335.8 650 338.4 649.8 344.6 653C350.9 656.2 359.8 663.4 369.5 669.5C379.2 675.6 393.6 685 402.7 689.4C411.8 693.8 416.4 693.6 424 696C431.6 698.4 444.5 701.6 448 704C451.5 706.4 445.5 709.4 445 710.5L403 710.5C403 709.8 407.5 708.7 403 706C398.5 703.3 384.3 698.6 376 694.4C367.7 690.2 359.6 685.4 353 681C346.4 676.6 341.5 672.5 336.3 667.8C331.1 663.1 324.4 655.5 322 653Z" fill="#efeff0"/>
<path d="M690 710.5C701.7 709.8 738.3 708.2 760 706C781.7 703.8 801.7 701.2 820 697C838.3 692.8 856.7 686.8 870 681C883.3 675.2 892.3 668.8 900 662C907.7 655.2 913.3 643.7 916 640C914.7 644.8 912.8 658.2 908 669C903.2 679.8 892.2 697.8 887 704.7C881.8 711.6 878.7 709.5 877 710.5L690 710.5Z" fill="#efeff0"/>
<path d="M284 589C295.9 591 331.2 597.6 355.5 601C379.8 604.4 405.1 607 430 609.5C454.9 612 473.3 613.1 505 616C536.7 618.9 584.2 624.6 620 627C655.8 629.4 688.1 630.7 720 630.5C751.9 630.3 791.6 627.4 811.6 626C831.6 624.6 827.4 624.6 840 622C852.6 619.4 872.5 614.3 887 610.6C901.5 606.9 920.3 601.8 927 600" fill="none" stroke="#222" stroke-width="1"/>
<path d="M284 589C284.7 591.3 286.4 597.9 288.2 603C290 608.1 291.8 614 294.9 619.8C297.9 625.6 302.4 632.5 306.5 638C310.6 643.5 314.8 648 319.8 653C324.8 658 330.8 663.1 336.3 667.8C341.8 672.5 346.4 676.6 353 681C359.6 685.4 367.7 690.2 376 694.4C384.3 698.6 398.5 704.1 403 706" fill="none" stroke="#222" stroke-width="1.1"/>
<path d="M927 600C926.4 603.7 925.5 613.2 923.5 622C921.5 630.8 917.6 645.2 915 653C912.4 660.8 912.7 660.4 908 669C903.3 677.6 892 697.9 887 704.7C882 711.5 879.5 709.1 878 710" fill="none" stroke="#222" stroke-width="1"/>
<path d="M288 590L289.5 582Q286 579 288 577.5Q296 575 303.5 578Q305 580 301.5 582.5L301 591.5Z" fill="#cfd8f3" stroke="#555a6b" stroke-width="0.7"/>
<path d="M403 706C412 705 418 699 424 695C430 691 438 689 442 691C447 693 449 697 444 699C452 697 458 699 457 703C466 702 470 706 480 707L480 710.5L403 710.5Z" fill="#fff"/>
<path d="M403 706C412 705 418 699 424 695C430 691 438 689 442 691C447 693 449 697 444 699C452 697 458 699 457 703C466 702 470 706 480 707" fill="none" stroke="#222" stroke-width="0.9"/>
<path d="M883.5 702.8L915.8 697.2L916.2 701.4L885.9 708Z" fill="#333" stroke="#222" stroke-width="0.6"/>
<path d="M921 706C925 699 929 696 934 695M928 707C932 701 937 698 943 698M936 707C940 703 945 702 949 703" fill="none" stroke="#222" stroke-width="0.7"/>
<path d="M936 693q3 -4 6 -2q-2 3 -6 2ZM944 690q3 -3 5 -1q-2 2 -5 1Z" fill="#fff" stroke="#222" stroke-width="0.6"/>
<path d="M748 709C751 704 754 701 757 701C756 704 753 708 751 710M756 709C759 705 762 703 765 704" fill="none" stroke="#222" stroke-width="0.6"/>
<path d="M764 699q3 -4 5 -2q-1 3 -5 2Z" fill="#fff" stroke="#222" stroke-width="0.5"/>
<path d="M478 708.9C478.5 708.9 480 709.1 481 709.2C482 709.3 483 709.4 484 709.4C485 709.5 486 709.5 487 709.5C488 709.4 489 709.4 490 709.3C491 709.3 492 709.2 493 709C494 708.9 495 708.7 496 708.6C497 708.4 498 708.2 499 707.9C500 707.7 501 707.1 502 707.1C503 707.1 504 707.8 505 708C506 708.3 507 708.5 508 708.6C509 708.8 510 709 511 709.1C512 709.2 513 709.3 514 709.4C515 709.4 516 709.5 517 709.5C518 709.5 519 709.4 520 709.4C521 709.3 522 709.2 523 709.1C524 709 525 708.8 526 708.6C527 708.4 528 708.2 529 708C530 707.7 531 707.1 532 707.1C533 707.1 534 707.8 535 708.1C536 708.3 537 708.5 538 708.7C539 708.9 540 709 541 709.2C542 709.3 543 709.4 544 709.4C545 709.5 546 709.5 547 709.5C548 709.4 549 709.4 550 709.3C551 709.2 552 709.1 553 708.9C554 708.8 555 708.6 556 708.4C557 708.1 558 707.7 559 707.6C560 707.4 561 707.5 562 707.6C563 707.8 564 708.2 565 708.4C566 708.6 567 708.8 568 709C569 709.1 570 709.2 571 709.3C572 709.4 573 709.4 574 709.5C575 709.5 576 709.4 577 709.4C578 709.3 579 709.2 580 709.1C581 708.9 582 708.8 583 708.6C584 708.4 585 708 586 707.8C587 707.6 588 707.3 589 707.4C590 707.4 591 708 592 708.2C593 708.5 594 708.7 595 708.9C596 709 597 709.2 598 709.3C599 709.4 600 709.4 601 709.4C602 709.5 603 709.5 604 709.4C605 709.4 606 709.3 607 709.2C608 709 609 708.9 610 708.7C611 708.5 612 708.3 613 708C614 707.7 615 707 616 707C617 707 618 707.8 619 708.1C620 708.3 621 708.5 622 708.7C623 708.9 624 709.1 625 709.2C626 709.3 627 709.4 628 709.4C629 709.5 630 709.5 631 709.4C632 709.4 633 709.4 634 709.3C635 709.2 636 709.1 637 708.9C638 708.8 639 708.6 640 708.3C641 708.1 642 707.7 643 707.5C644 707.4 645 707.5 646 707.6C647 707.8 648 708.2 649 708.4C650 708.6 651 708.8 652 708.9C653 709.1 654 709.2 655 709.3C656 709.4 657 709.4 658 709.4C659 709.5 660 709.5 661 709.4C662 709.4 663 709.3 664 709.2C665 709.1 666 709 667 708.8C668 708.6 669 708.5 670 708.2C671 708 672 707.5 673 707.4C674 707.3 675 707.5 676 707.7C677 707.8 678 708.2 679 708.4C680 708.6 681 708.8 682 708.9C683 709.1 684 709.2 685 709.3C686 709.3 687 709.4 688 709.4C689 709.5 690 709.5 691 709.4C692 709.4 693 709.4 694 709.3C695 709.2 696 709.1 697 708.9C698 708.8 699 708.6 700 708.5C701 708.3 702 708 703 707.8C704 707.6 705 707.2 706 707.2C707 707.3 708 707.8 709 708.1C710 708.3 711 708.5 712 708.7C713 708.8 714 709 715 709.1C716 709.2 717 709.3 718 709.3C719 709.4 720 709.4 721 709.5C722 709.5 723 709.5 724 709.4C725 709.4 726 709.3 727 709.2C728 709.1 729 709 730 708.9C731 708.7 732 708.5 733 708.3C734 708.1 735 707.8 736 707.7C737 707.5 738 707.3 739 707.4C740 707.5 741 707.9 742 708.2C743 708.4 744 708.5 745 708.7C746 708.9 747 709 748 709.1C749 709.2 750 709.3 751 709.4C752 709.4 753 709.5 754 709.5C755 709.5 756 709.4 757 709.4C758 709.4 759 709.3 760 709.2C761 709.1 762 709 763 708.8C764 708.7 765 708.5 766 708.3C767 708.1 768 707.7 769 707.5C770 707.4 771 707.4 772 707.5C773 707.6 774 708.1 775 708.3C776 708.5 777 708.7 778 708.8C779 709 780 709.1 781 709.2C782 709.3 783 709.4 784 709.4C785 709.5 786 709.5 787 709.5C788 709.4 789 709.4 790 709.3C791 709.3 792 709.2 793 709C794 708.9 795 708.8 796 708.6C797 708.4 798 708.2 799 707.9C800 707.7 801 707 802 707C803 707 804 707.7 805 708C806 708.3 807 708.5 808 708.6C809 708.8 810 709 811 709.1C812 709.2 813 709.3 814 709.4C815 709.4 816 709.5 817 709.5C818 709.5 819 709.4 820 709.4C821 709.3 822 709.2 823 709.1C824 708.9 825 708.8 826 708.6C827 708.4 828 708.2 829 707.9C830 707.7 831 707.1 832 707.2C833 707.2 834 707.8 835 708.1C836 708.4 837 708.6 838 708.7C839 708.9 840 709.1 841 709.2C842 709.3 843 709.4 844 709.4C845 709.5 846 709.5 847 709.4C848 709.4 849 709.4 850 709.3C851 709.2 852 709.1 853 708.9C854 708.7 855 708.5 856 708.3C857 708.1 858 707.6 859 707.5C860 707.4 861 707.6 862 707.7C863 707.9 864 708.3 865 708.5C866 708.7 867 708.9 868 709C869 709.2 870 709.3 871 709.4C872 709.4 873 709.5 874 709.5C875 709.5 876 709.4 877 709.4C878 709.3 879 709.2 880 709C881 708.9 882.5 708.6 883 708.5" fill="none" stroke="#222" stroke-width="0.8"/>
<path d="M882.9 612C883.2 610.8 883.1 606.8 884.3 604.8C885.6 602.8 888.4 600.6 890.6 599.9C892.8 599.2 895.5 599.6 897.5 600.6C899.6 601.7 900.8 605.9 903.1 606.2C905.4 606.5 909.4 602.1 911.4 602.3C913.5 602.5 914.2 605.1 915.6 607.6C917 610.1 917.5 614.8 919.8 617.3C922.1 619.9 925.8 622.2 929.5 622.9C933.2 623.6 938.3 622.9 942 621.5C945.7 620.1 949.4 617.3 951.8 614.5C954.1 611.8 955.2 606.7 955.9 605.1" fill="none" stroke="#fff" stroke-width="6.8"/>
<path d="M882.9 612C883.2 610.8 883.1 606.8 884.3 604.8C885.6 602.8 888.4 600.6 890.6 599.9C892.8 599.2 895.5 599.6 897.5 600.6C899.6 601.7 900.8 605.9 903.1 606.2C905.4 606.5 909.4 602.1 911.4 602.3C913.5 602.5 914.2 605.1 915.6 607.6C917 610.1 917.5 614.8 919.8 617.3C922.1 619.9 925.8 622.2 929.5 622.9C933.2 623.6 938.3 622.9 942 621.5C945.7 620.1 949.4 617.3 951.8 614.5C954.1 611.8 955.2 606.7 955.9 605.1" fill="none" stroke="#3b3836" stroke-width="4.4"/>
<path d="M882.9 612C883.2 610.8 883.1 606.8 884.3 604.8C885.6 602.8 888.4 600.6 890.6 599.9C892.8 599.2 895.5 599.6 897.5 600.6C899.6 601.7 900.8 605.9 903.1 606.2C905.4 606.5 909.4 602.1 911.4 602.3C913.5 602.5 914.2 605.1 915.6 607.6C917 610.1 917.5 614.8 919.8 617.3C922.1 619.9 925.8 622.2 929.5 622.9C933.2 623.6 938.3 622.9 942 621.5C945.7 620.1 949.4 617.3 951.8 614.5C954.1 611.8 955.2 606.7 955.9 605.1" fill="none" stroke="#8d8a86" stroke-width="2.9"/>
<g stroke-linejoin="round">
<text x="271.6" y="57.7" font-size="26.5" fill="#1a2a66" textLength="75.4" lengthAdjust="spacingAndGlyphs" word-spacing="3" stroke="#1a2a66" stroke-width="0.25"><tspan font-size="28.1">O</tspan>ULUN</text>
<text x="366" y="57.7" font-size="26.5" fill="#1a2a66" textLength="132" lengthAdjust="spacingAndGlyphs" word-spacing="3" stroke="#1a2a66" stroke-width="0.25"><tspan font-size="29.7">K</tspan>AUPUNGIN</text>
<text x="514" y="57.7" font-size="26.5" fill="#1a2a66" textLength="158.7" lengthAdjust="spacingAndGlyphs" word-spacing="3" stroke="#1a2a66" stroke-width="0.25"><tspan font-size="29.7">E</tspan>SIOPETUKSEN</text>
<text x="693" y="57.7" font-size="26.5" fill="#1a2a66" textLength="235" lengthAdjust="spacingAndGlyphs" word-spacing="3" stroke="#1a2a66" stroke-width="0.25"><tspan font-size="28.1">O</tspan>PETUSSUUNNITELMA</text>
<text x="524.3" y="202.3" font-size="15.2" fill="#151517" textLength="53.7" lengthAdjust="spacingAndGlyphs" word-spacing="3" stroke="#151517" stroke-width="0.08"><tspan font-size="16.4">K</tspan>ASVAN</text>
<text x="510.3" y="221" font-size="15.2" fill="#151517" textLength="77.7" lengthAdjust="spacingAndGlyphs" word-spacing="3" stroke="#151517" stroke-width="0.08">JA <tspan font-size="16.4">K</tspan>EHITYN</text>
<text x="435.7" y="261" font-size="15.2" fill="#151517" textLength="126.3" lengthAdjust="spacingAndGlyphs" word-spacing="3" stroke="#151517" stroke-width="0.08"><tspan font-size="16.4">T</tspan>UTKIN JA <tspan font-size="16.4">T</tspan>OIMIN</text>
<text x="443.7" y="278.3" font-size="15.2" fill="#151517" textLength="107.3" lengthAdjust="spacingAndGlyphs" word-spacing="3" stroke="#151517" stroke-width="0.08"><tspan font-size="16.4">Y</tspan>MPÄRISTÖSSÄNI</text>
<text x="367.5" y="323" font-size="15.2" fill="#151517" textLength="117.5" lengthAdjust="spacingAndGlyphs" word-spacing="3" stroke="#151517" stroke-width="0.08"><tspan font-size="16.4">M</tspan>INÄ JA <tspan font-size="16.4">M</tspan>EIDÄN</text>
<text x="376" y="340.3" font-size="15.2" fill="#151517" textLength="88" lengthAdjust="spacingAndGlyphs" word-spacing="3" stroke="#151517" stroke-width="0.08"><tspan font-size="16.4">Y</tspan>HTEISÖMME</text>
<text x="326" y="390.3" font-size="15.2" fill="#151517" textLength="49" lengthAdjust="spacingAndGlyphs" word-spacing="3" stroke="#151517" stroke-width="0.08"><tspan font-size="16.4">K</tspan>IELEN</text>
<text x="292.5" y="407" font-size="15.2" fill="#151517" textLength="113.5" lengthAdjust="spacingAndGlyphs" word-spacing="3" stroke="#151517" stroke-width="0.08"><tspan font-size="16.4">R</tspan>IKAS <tspan font-size="16.4">M</tspan>AAILMA</text>
<text x="336" y="455" font-size="15.2" fill="#151517" textLength="67.3" lengthAdjust="spacingAndGlyphs" word-spacing="3" stroke="#151517" stroke-width="0.08"><tspan font-size="16.4">I</tspan>LMAISUN</text>
<text x="313.7" y="470.3" font-size="15.2" fill="#151517" textLength="114.3" lengthAdjust="spacingAndGlyphs" word-spacing="3" stroke="#151517" stroke-width="0.08"><tspan font-size="16.4">M</tspan>ONET <tspan font-size="16.4">M</tspan>UODOT</text>
<text x="707" y="171.5" font-size="15.2" fill="#151517" textLength="108.5" lengthAdjust="spacingAndGlyphs" word-spacing="3" stroke="#151517" stroke-width="0.08"><tspan font-size="16.4">I</tspan>NTOA JA <tspan font-size="16.4">I</tspan>LOA</text>
<text x="723" y="187.5" font-size="15.2" fill="#151517" textLength="75" lengthAdjust="spacingAndGlyphs" word-spacing="3" stroke="#151517" stroke-width="0.08"><tspan font-size="16.4">E</tspan>SKARISTA</text>
<text x="721.4" y="394" font-size="15.2" fill="#151517" textLength="115.6" lengthAdjust="spacingAndGlyphs" word-spacing="3" stroke="#151517" stroke-width="0.08"><tspan font-size="16.4">L</tspan>AAJA-ALAINEN</text>
<text x="736" y="408.4" font-size="15.2" fill="#151517" textLength="78.5" lengthAdjust="spacingAndGlyphs" word-spacing="3" stroke="#151517" stroke-width="0.08"><tspan font-size="16.4">O</tspan>SAAMINEN</text>
<text x="371" y="648" font-size="15.2" fill="#151517" textLength="44" lengthAdjust="spacingAndGlyphs" word-spacing="3" stroke="#151517" stroke-width="0.08"><tspan font-size="16.4">R</tspan>YHMÄ</text>
<text x="633.5" y="650.5" font-size="15.2" fill="#151517" textLength="53" lengthAdjust="spacingAndGlyphs" word-spacing="3" stroke="#151517" stroke-width="0.08"><tspan font-size="16.4">T</tspan>YÖPARI</text>
<text x="815.5" y="648.3" font-size="15.2" fill="#151517" textLength="83.5" lengthAdjust="spacingAndGlyphs" word-spacing="3" stroke="#151517" stroke-width="0.08"><tspan font-size="16.4">I</tspan>TSENÄISESTI</text>
<text x="477" y="688" font-size="15.2" fill="#151517" textLength="313.5" lengthAdjust="spacingAndGlyphs" word-spacing="6" stroke="#151517" stroke-width="0.08"><tspan font-size="16.4">M</tspan>ONIPUOLISET <tspan font-size="16.4">O</tspan>PPIMISYMPÄRISTÖT JA <tspan font-size="16.4">T</tspan>YÖTAVAT</text>
<text x="241.5" y="767" font-size="15.2" fill="#151517" textLength="106" lengthAdjust="spacingAndGlyphs" word-spacing="3" stroke="#151517" stroke-width="0.08"><tspan font-size="16.4">O</tspan>PPIMISEN <tspan font-size="16.4">I</tspan>LO</text>
<text x="496" y="767" font-size="15.2" fill="#151517" textLength="43" lengthAdjust="spacingAndGlyphs" word-spacing="3" stroke="#151517" stroke-width="0.08"><tspan font-size="16.4">L</tspan>EIKKI</text>
<text x="654.5" y="767.5" font-size="15.2" fill="#151517" textLength="106" lengthAdjust="spacingAndGlyphs" word-spacing="3" stroke="#151517" stroke-width="0.08"><tspan font-size="16.4">Y</tspan>HTEISÖLLISYYS,</text>
<text x="664" y="786.7" font-size="15.2" fill="#151517" textLength="81.5" lengthAdjust="spacingAndGlyphs" word-spacing="3" stroke="#151517" stroke-width="0.08"><tspan font-size="16.4">H</tspan>YVINVOINTI</text>
<text x="656.5" y="803" font-size="15.2" fill="#151517" textLength="102.5" lengthAdjust="spacingAndGlyphs" word-spacing="3" stroke="#151517" stroke-width="0.08">JA <tspan font-size="16.4">O</tspan>SALLISUUS</text>
<text x="899" y="764.7" font-size="15.2" fill="#151517" textLength="90.5" lengthAdjust="spacingAndGlyphs" word-spacing="3" stroke="#151517" stroke-width="0.08"><tspan font-size="16.4">O</tspan>ULULAISUUS</text>
<text x="1025.5" y="627.5" font-size="15.2" fill="#151517" textLength="97.5" lengthAdjust="spacingAndGlyphs" word-spacing="3" stroke="#151517" stroke-width="0.08"><tspan font-size="16.4">H</tspan>AVAINNOINTI,</text>
<text x="1024.5" y="645" font-size="15.2" fill="#151517" textLength="101" lengthAdjust="spacingAndGlyphs" word-spacing="3" stroke="#151517" stroke-width="0.08"><tspan font-size="16.4">D</tspan>OKUMENTOINTI</text>
<text x="1024.5" y="662" font-size="15.2" fill="#151517" textLength="96" lengthAdjust="spacingAndGlyphs" word-spacing="3" stroke="#151517" stroke-width="0.08">JA <tspan font-size="16.4">A</tspan>RVIOINNIN</text>
<text x="1043" y="679.5" font-size="15.2" fill="#151517" textLength="55" lengthAdjust="spacingAndGlyphs" word-spacing="3" stroke="#151517" stroke-width="0.08"><tspan font-size="16.4">A</tspan>NKKURI</text>
<text font-size="13.5" fill="#151517" stroke="#151517" stroke-width="0.08" text-anchor="middle"><tspan x="620.6" y="185.8">L</tspan><tspan x="620.6" y="198.3">A</tspan><tspan x="620.6" y="209.8">S</tspan><tspan x="620.6" y="221.8">T</tspan><tspan x="620.6" y="233.8">E</tspan><tspan x="620.6" y="245.3">N</tspan> <tspan x="620.6" y="264.8">M</tspan><tspan x="620.6" y="276">I</tspan><tspan x="620.6" y="287.2">E</tspan><tspan x="620.6" y="298.4">L</tspan><tspan x="620.6" y="309.6">E</tspan><tspan x="620.6" y="320.8">N</tspan><tspan x="620.6" y="332">K</tspan><tspan x="620.6" y="343.2">I</tspan><tspan x="620.6" y="354.4">I</tspan><tspan x="620.6" y="365.6">N</tspan><tspan x="620.6" y="376.8">N</tspan><tspan x="620.6" y="388">O</tspan><tspan x="620.6" y="399.2">N</tspan> <tspan x="620.6" y="427.6">K</tspan><tspan x="620.6" y="439.1">O</tspan><tspan x="620.6" y="450.6">H</tspan><tspan x="620.6" y="462.1">T</tspan><tspan x="620.6" y="473.6">E</tspan><tspan x="620.6" y="485.1">E</tspan><tspan x="620.6" y="496.6">T</tspan></text>
</g>
</svg>
</body></html>
